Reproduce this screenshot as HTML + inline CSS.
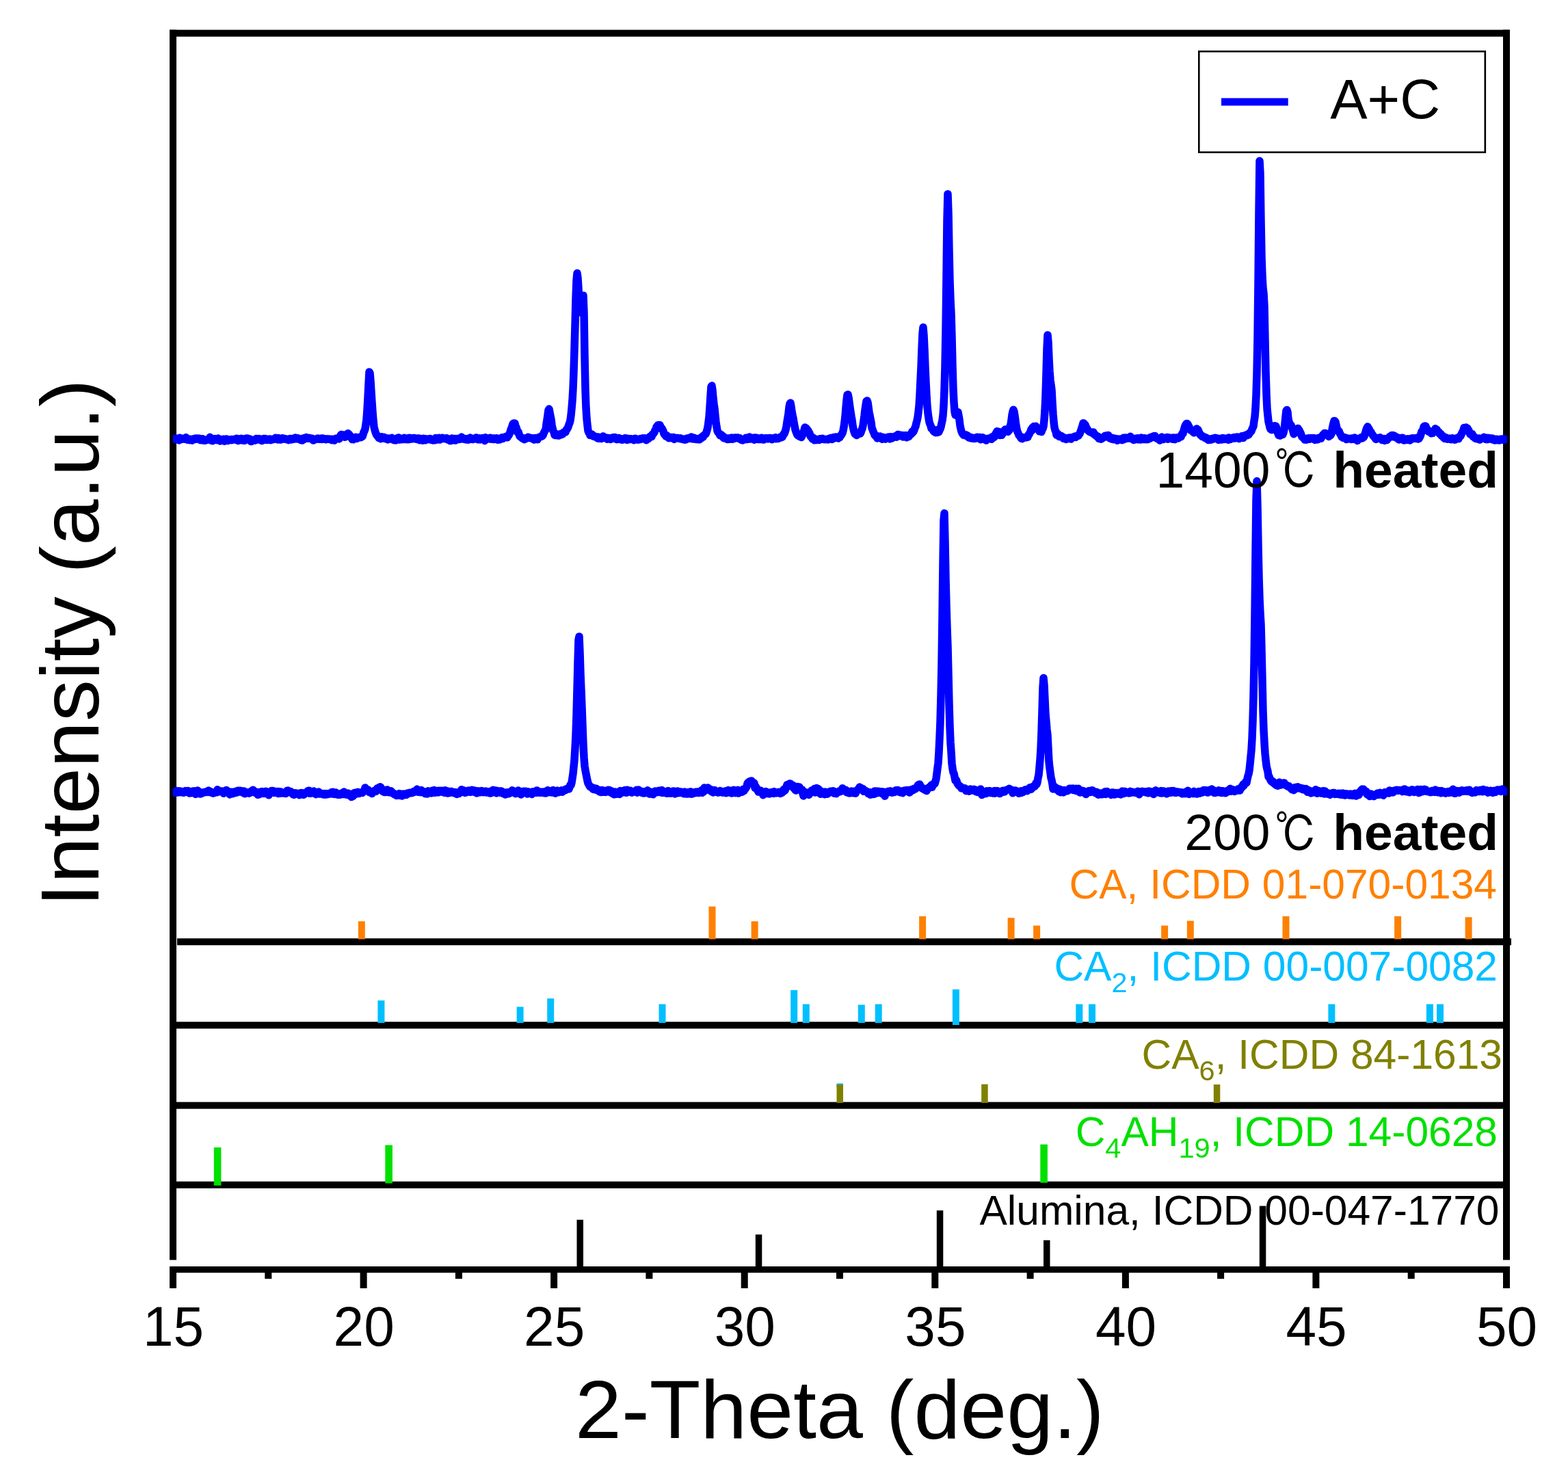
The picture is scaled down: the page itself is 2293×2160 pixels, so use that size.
<!DOCTYPE html>
<html lang="en"><head><meta charset="utf-8"><title>XRD patterns A+C</title>
<style>html,body{margin:0;padding:0;background:#fff;overflow:hidden}svg{display:block}text{font-family:"Liberation Sans","Noto Sans CJK SC",sans-serif;font-kerning:none;font-variant-ligatures:none}</style>
</head><body>
<svg width="2293" height="2160" viewBox="0 0 2293 2160" role="img" aria-label="XRD patterns of A+C heated at 200 and 1400 degrees Celsius">
<rect x="0" y="0" width="2293" height="2160" fill="#fff"/>
<g fill="#000">
<rect x="259" y="1372.3" width="1951" height="10"/>
<rect x="253" y="1494.3" width="1950" height="10"/>
<rect x="253" y="1611.6" width="1950" height="10"/>
<rect x="253" y="1727.8" width="1950" height="10"/>
</g>
<rect x="523.8" y="1347.3" width="10.0" height="26.2" fill="#ff8000"/>
<rect x="1036.5" y="1325.7" width="10.0" height="47.8" fill="#ff8000"/>
<rect x="1098.6" y="1347.3" width="10.0" height="26.2" fill="#ff8000"/>
<rect x="1344.1" y="1340.0" width="10.0" height="33.5" fill="#ff8000"/>
<rect x="1473.6" y="1342.3" width="10.0" height="31.2" fill="#ff8000"/>
<rect x="1511.1" y="1353.6" width="10.0" height="19.9" fill="#ff8000"/>
<rect x="1698.1" y="1353.6" width="10.0" height="19.9" fill="#ff8000"/>
<rect x="1735.8" y="1346.6" width="10.0" height="26.9" fill="#ff8000"/>
<rect x="1875.5" y="1340.0" width="10.0" height="33.5" fill="#ff8000"/>
<rect x="2039.1" y="1340.0" width="10.0" height="33.5" fill="#ff8000"/>
<rect x="2142.6" y="1341.3" width="10.0" height="32.2" fill="#ff8000"/>
<rect x="552.4" y="1463.1" width="10.0" height="32.9" fill="#00bfff"/>
<rect x="755.6" y="1472.4" width="10.0" height="23.6" fill="#00bfff"/>
<rect x="800.2" y="1460.2" width="10.0" height="35.8" fill="#00bfff"/>
<rect x="963.5" y="1468.5" width="10.0" height="27.5" fill="#00bfff"/>
<rect x="1156.2" y="1447.9" width="10.0" height="48.1" fill="#00bfff"/>
<rect x="1173.8" y="1468.5" width="10.0" height="27.5" fill="#00bfff"/>
<rect x="1254.8" y="1469.4" width="10.0" height="26.6" fill="#00bfff"/>
<rect x="1279.7" y="1468.5" width="10.0" height="27.5" fill="#00bfff"/>
<rect x="1392.9" y="1446.9" width="10.0" height="52.1" fill="#00bfff"/>
<rect x="1573.3" y="1468.5" width="10.0" height="27.5" fill="#00bfff"/>
<rect x="1592.0" y="1468.5" width="10.0" height="27.5" fill="#00bfff"/>
<rect x="1942.4" y="1468.5" width="10.0" height="27.5" fill="#00bfff"/>
<rect x="2085.9" y="1468.5" width="10.0" height="27.5" fill="#00bfff"/>
<rect x="2101.0" y="1468.5" width="10.0" height="27.5" fill="#00bfff"/>
<rect x="1223.5" y="1584.5" width="9.5" height="5.5" fill="#00bfff"/>
<rect x="1223.5" y="1586.0" width="9.5" height="27.0" fill="#808000"/>
<rect x="1435.2" y="1585.6" width="9.5" height="27.4" fill="#808000"/>
<rect x="1774.8" y="1586.0" width="9.5" height="27.0" fill="#808000"/>
<rect x="312.8" y="1678.0" width="10.6" height="55.7" fill="#00e000"/>
<rect x="563.3" y="1674.6" width="10.6" height="55.8" fill="#00e000"/>
<rect x="1521.3" y="1673.6" width="10.6" height="56.1" fill="#00e000"/>
<rect x="843.5" y="1783.8" width="9.5" height="69.2" fill="#000"/>
<rect x="1104.8" y="1805.4" width="9.5" height="47.6" fill="#000"/>
<rect x="1369.8" y="1770.2" width="9.5" height="82.8" fill="#000"/>
<rect x="1526.0" y="1813.7" width="9.5" height="39.3" fill="#000"/>
<rect x="1841.8" y="1763.6" width="9.5" height="89.4" fill="#000"/>
<g fill="#000">
<rect x="248" y="43.6" width="1960" height="10"/>
<rect x="248" y="43.6" width="10" height="1799"/>
<rect x="2198" y="43.6" width="10" height="1799"/>
<rect x="248" y="1852" width="1960" height="9.3"/>
<rect x="248.0" y="1856" width="10" height="28"/>
<rect x="526.6" y="1856" width="10" height="28"/>
<rect x="805.1" y="1856" width="10" height="28"/>
<rect x="1083.7" y="1856" width="10" height="28"/>
<rect x="1362.3" y="1856" width="10" height="28"/>
<rect x="1640.9" y="1856" width="10" height="28"/>
<rect x="1919.4" y="1856" width="10" height="28"/>
<rect x="2198.0" y="1856" width="10" height="28"/>
<rect x="387.3" y="1856" width="10" height="14.2"/>
<rect x="665.9" y="1856" width="10" height="14.2"/>
<rect x="944.4" y="1856" width="10" height="14.2"/>
<rect x="1223.0" y="1856" width="10" height="14.2"/>
<rect x="1501.6" y="1856" width="10" height="14.2"/>
<rect x="1780.1" y="1856" width="10" height="14.2"/>
<rect x="2058.7" y="1856" width="10" height="14.2"/>
</g>
<path d="M252.7,1159.4 L255.0,1159.4 L257.0,1158.4 L258.0,1156.4 L259.0,1159.1 L260.0,1158.4 L261.0,1158.8 L262.0,1156.8 L263.0,1157.0 L264.0,1157.6 L265.0,1158.8 L266.0,1157.4 L267.0,1158.1 L268.0,1159.2 L269.0,1159.2 L270.0,1158.2 L271.0,1156.5 L272.0,1157.4 L273.0,1157.9 L274.0,1157.7 L275.0,1156.5 L276.0,1157.5 L277.0,1160.1 L278.0,1159.0 L279.0,1158.2 L280.0,1159.5 L281.0,1159.0 L282.0,1157.0 L283.0,1159.1 L284.0,1156.8 L285.0,1159.1 L286.0,1161.5 L287.0,1159.2 L288.0,1160.4 L289.0,1156.0 L290.0,1160.5 L291.0,1159.5 L292.0,1158.3 L293.0,1161.1 L294.0,1160.3 L295.0,1160.4 L296.0,1159.5 L297.0,1159.2 L298.0,1158.7 L299.0,1158.5 L300.0,1158.8 L301.0,1158.1 L302.0,1157.6 L303.0,1157.9 L304.0,1158.6 L305.0,1156.1 L306.0,1158.2 L307.0,1157.2 L308.0,1157.5 L309.0,1159.1 L310.0,1159.6 L311.0,1159.3 L312.0,1160.2 L313.0,1159.1 L314.0,1159.4 L315.0,1159.0 L316.0,1158.7 L317.0,1158.7 L318.0,1154.8 L319.0,1155.7 L320.0,1156.8 L321.0,1157.6 L322.0,1157.3 L323.0,1157.2 L324.0,1156.9 L325.0,1156.9 L326.0,1158.2 L327.0,1160.3 L328.0,1158.2 L329.0,1157.7 L330.0,1158.4 L331.0,1155.5 L332.0,1157.5 L333.0,1157.5 L334.0,1158.5 L335.0,1157.7 L336.0,1161.9 L337.0,1158.3 L338.0,1159.7 L339.0,1158.2 L340.0,1160.7 L341.0,1160.4 L342.0,1159.7 L343.0,1158.8 L344.0,1157.6 L345.0,1159.4 L346.0,1159.2 L347.0,1157.1 L348.0,1156.3 L349.0,1158.0 L350.0,1158.0 L351.0,1156.2 L352.0,1157.4 L353.0,1156.4 L354.0,1158.1 L355.0,1159.2 L356.0,1158.6 L357.0,1156.9 L358.0,1160.7 L359.0,1159.5 L360.0,1159.9 L361.0,1159.2 L362.0,1159.3 L363.0,1158.7 L364.0,1160.2 L365.0,1159.1 L366.0,1159.5 L367.0,1157.5 L368.0,1157.5 L369.0,1156.1 L370.0,1155.2 L371.0,1156.3 L372.0,1156.9 L373.0,1158.9 L374.0,1159.7 L375.0,1159.9 L376.0,1160.1 L377.0,1162.3 L378.0,1158.4 L379.0,1161.7 L380.0,1160.8 L381.0,1158.6 L382.0,1160.6 L383.0,1157.4 L384.0,1159.4 L385.0,1159.2 L386.0,1160.5 L387.0,1158.8 L388.0,1157.6 L389.0,1157.2 L390.0,1159.6 L391.0,1160.8 L392.0,1160.2 L393.0,1162.8 L394.0,1159.3 L395.0,1158.9 L396.0,1159.2 L397.0,1156.4 L398.0,1157.2 L399.0,1156.4 L400.0,1158.5 L401.0,1159.6 L402.0,1157.3 L403.0,1159.2 L404.0,1157.8 L405.0,1158.7 L406.0,1157.6 L407.0,1160.5 L408.0,1157.6 L409.0,1160.3 L410.0,1158.1 L411.0,1158.1 L412.0,1158.6 L413.0,1160.0 L414.0,1160.1 L415.0,1160.0 L416.0,1159.6 L417.0,1160.0 L418.0,1160.5 L419.0,1159.7 L420.0,1156.2 L421.0,1156.1 L422.0,1157.8 L423.0,1158.5 L424.0,1158.6 L425.0,1157.5 L426.0,1159.0 L427.0,1159.5 L428.0,1161.3 L429.0,1162.0 L430.0,1162.3 L431.0,1159.9 L432.0,1159.7 L433.0,1160.5 L434.0,1160.3 L435.0,1160.2 L436.0,1160.9 L437.0,1161.5 L438.0,1162.7 L439.0,1160.1 L440.0,1159.5 L441.0,1160.0 L442.0,1159.5 L443.0,1161.7 L444.0,1162.3 L445.0,1161.6 L446.0,1160.5 L447.0,1159.9 L448.0,1159.4 L449.0,1158.7 L450.0,1156.8 L451.0,1156.4 L452.0,1156.2 L453.0,1160.3 L454.0,1159.9 L455.0,1160.0 L456.0,1159.8 L457.0,1159.8 L458.0,1157.7 L459.0,1156.9 L460.0,1158.9 L461.0,1160.8 L462.0,1161.5 L463.0,1160.5 L464.0,1160.6 L465.0,1159.8 L466.0,1158.0 L467.0,1161.0 L468.0,1160.4 L469.0,1160.1 L470.0,1160.9 L471.0,1160.8 L472.0,1161.0 L473.0,1162.1 L474.0,1160.6 L475.0,1161.2 L476.0,1162.2 L477.0,1160.5 L478.0,1161.2 L479.0,1161.6 L480.0,1160.6 L481.0,1160.4 L482.0,1160.3 L483.0,1161.0 L484.0,1159.8 L485.0,1158.6 L486.0,1159.0 L487.0,1158.2 L488.0,1161.3 L489.0,1160.3 L490.0,1161.5 L491.0,1158.9 L492.0,1160.5 L493.0,1160.4 L494.0,1162.2 L495.0,1161.4 L496.0,1162.1 L497.0,1162.3 L498.0,1162.0 L499.0,1160.1 L500.0,1160.5 L501.0,1159.8 L502.0,1161.5 L503.0,1158.1 L504.0,1159.4 L505.0,1161.2 L506.0,1162.0 L507.0,1161.4 L508.0,1162.5 L509.0,1160.1 L510.0,1161.9 L511.0,1163.4 L512.0,1162.3 L513.0,1162.3 L514.0,1165.6 L515.0,1164.7 L516.0,1164.5 L517.0,1160.1 L518.0,1159.7 L519.0,1159.3 L520.0,1161.6 L521.0,1159.2 L522.0,1160.7 L523.0,1158.3 L524.0,1159.1 L525.0,1160.5 L526.0,1159.4 L527.0,1159.0 L528.0,1158.9 L529.0,1158.9 L530.0,1159.4 L531.0,1157.7 L532.0,1157.0 L533.0,1155.9 L534.0,1151.9 L535.0,1154.2 L536.0,1154.9 L537.0,1155.2 L538.0,1154.8 L539.0,1155.8 L540.0,1158.6 L541.0,1157.9 L542.0,1159.1 L543.0,1158.4 L544.0,1160.6 L545.0,1159.4 L546.0,1157.4 L547.0,1156.6 L548.0,1156.0 L549.0,1156.4 L550.0,1157.3 L551.0,1155.8 L552.0,1152.7 L553.0,1152.6 L554.0,1151.8 L555.0,1152.0 L556.0,1150.7 L557.0,1151.6 L558.0,1155.3 L559.0,1155.6 L560.0,1157.5 L561.0,1157.7 L562.0,1158.5 L563.0,1156.1 L564.0,1158.5 L565.0,1158.4 L566.0,1154.9 L567.0,1155.6 L568.0,1155.8 L569.0,1158.8 L570.0,1158.0 L571.0,1159.1 L572.0,1156.7 L573.0,1158.8 L574.0,1159.9 L575.0,1160.5 L576.0,1160.3 L577.0,1162.0 L578.0,1162.0 L579.0,1161.8 L580.0,1163.5 L581.0,1162.0 L582.0,1161.5 L583.0,1161.4 L584.0,1160.6 L585.0,1163.4 L586.0,1161.1 L587.0,1162.3 L588.0,1164.0 L589.0,1161.1 L590.0,1161.0 L591.0,1162.4 L592.0,1161.7 L593.0,1160.9 L594.0,1162.6 L595.0,1160.3 L596.0,1160.0 L597.0,1160.2 L598.0,1160.2 L599.0,1159.2 L600.0,1160.0 L601.0,1159.6 L602.0,1159.8 L603.0,1159.2 L604.0,1158.1 L605.0,1158.8 L606.0,1157.0 L607.0,1157.2 L608.0,1155.9 L609.0,1157.1 L610.0,1154.1 L611.0,1158.1 L612.0,1158.3 L613.0,1156.7 L614.0,1157.9 L615.0,1158.8 L616.0,1155.6 L617.0,1157.0 L618.0,1158.2 L619.0,1158.5 L620.0,1158.8 L621.0,1158.0 L622.0,1160.7 L623.0,1160.6 L624.0,1159.3 L625.0,1161.0 L626.0,1156.8 L627.0,1159.8 L628.0,1159.2 L629.0,1157.8 L630.0,1159.1 L631.0,1160.0 L632.0,1156.3 L633.0,1159.3 L634.0,1157.4 L635.0,1155.6 L636.0,1159.2 L637.0,1159.1 L638.0,1157.3 L639.0,1158.4 L640.0,1158.9 L641.0,1156.2 L642.0,1158.7 L643.0,1157.0 L644.0,1156.4 L645.0,1157.0 L646.0,1157.4 L647.0,1156.2 L648.0,1158.6 L649.0,1158.7 L650.0,1159.4 L651.0,1155.7 L652.0,1156.3 L653.0,1159.4 L654.0,1159.9 L655.0,1159.9 L656.0,1157.2 L657.0,1159.4 L658.0,1157.7 L659.0,1157.7 L660.0,1157.4 L661.0,1159.0 L662.0,1159.3 L663.0,1158.5 L664.0,1159.8 L665.0,1158.6 L666.0,1159.9 L667.0,1160.7 L668.0,1161.6 L669.0,1158.8 L670.0,1159.3 L671.0,1160.6 L672.0,1158.8 L673.0,1157.9 L674.0,1159.0 L675.0,1154.7 L676.0,1157.2 L677.0,1157.0 L678.0,1155.7 L679.0,1158.2 L680.0,1159.4 L681.0,1158.1 L682.0,1157.9 L683.0,1158.6 L684.0,1157.8 L685.0,1156.1 L686.0,1156.2 L687.0,1158.2 L688.0,1158.4 L689.0,1157.9 L690.0,1155.2 L691.0,1155.7 L692.0,1156.6 L693.0,1158.2 L694.0,1156.0 L695.0,1158.3 L696.0,1158.8 L697.0,1159.9 L698.0,1159.8 L699.0,1156.7 L700.0,1158.0 L701.0,1157.2 L702.0,1158.8 L703.0,1157.7 L704.0,1156.5 L705.0,1156.8 L706.0,1157.5 L707.0,1158.7 L708.0,1158.4 L709.0,1157.4 L710.0,1157.0 L711.0,1158.9 L712.0,1159.1 L713.0,1158.0 L714.0,1157.7 L715.0,1159.2 L716.0,1159.8 L717.0,1159.0 L718.0,1160.0 L719.0,1156.6 L720.0,1155.9 L721.0,1155.4 L722.0,1155.9 L723.0,1156.5 L724.0,1155.9 L725.0,1158.9 L726.0,1159.9 L727.0,1156.4 L728.0,1158.4 L729.0,1157.1 L730.0,1158.2 L731.0,1159.2 L732.0,1159.1 L733.0,1156.9 L734.0,1157.2 L735.0,1158.7 L736.0,1160.5 L737.0,1160.2 L738.0,1160.1 L739.0,1162.0 L740.0,1159.0 L741.0,1161.1 L742.0,1158.8 L743.0,1161.1 L744.0,1159.8 L745.0,1160.2 L746.0,1159.6 L747.0,1159.2 L748.0,1156.7 L749.0,1155.9 L750.0,1156.3 L751.0,1157.0 L752.0,1158.4 L753.0,1159.7 L754.0,1160.8 L755.0,1159.1 L756.0,1157.6 L757.0,1157.0 L758.0,1156.1 L759.0,1158.1 L760.0,1157.5 L761.0,1158.4 L762.0,1162.0 L763.0,1157.7 L764.0,1157.6 L765.0,1157.9 L766.0,1157.2 L767.0,1158.5 L768.0,1157.2 L769.0,1157.2 L770.0,1159.6 L771.0,1161.1 L772.0,1157.7 L773.0,1158.0 L774.0,1158.7 L775.0,1159.7 L776.0,1160.2 L777.0,1158.8 L778.0,1161.5 L779.0,1157.7 L780.0,1158.3 L781.0,1158.9 L782.0,1157.8 L783.0,1159.0 L784.0,1159.4 L785.0,1155.9 L786.0,1157.9 L787.0,1157.7 L788.0,1159.2 L789.0,1158.9 L790.0,1158.2 L791.0,1159.3 L792.0,1159.2 L793.0,1159.0 L794.0,1158.1 L795.0,1159.1 L796.0,1159.8 L797.0,1159.9 L798.0,1160.0 L799.0,1156.9 L800.0,1158.5 L801.0,1155.6 L802.0,1157.6 L803.0,1158.7 L804.0,1157.5 L805.0,1158.4 L806.0,1156.4 L807.0,1159.1 L808.0,1158.6 L809.0,1155.4 L810.0,1159.0 L811.0,1159.4 L812.0,1160.3 L813.0,1158.2 L814.0,1158.9 L815.0,1156.1 L816.0,1158.6 L817.0,1158.8 L818.0,1157.8 L819.0,1158.0 L820.0,1157.4 L821.0,1155.8 L822.0,1158.3 L823.0,1156.4 L824.0,1157.0 L825.0,1155.2 L826.0,1155.2 L827.0,1155.5 L828.0,1154.0 L829.0,1153.5 L830.0,1153.8 L831.0,1153.8 L832.0,1153.9 L833.0,1151.1 L834.0,1147.7 L835.0,1148.2 L836.0,1144.5 L837.0,1138.1 L838.0,1131.4 L839.0,1121.5 L840.0,1111.7 L841.0,1094.3 L842.0,1075.3 L843.0,1046.7 L844.0,1008.4 L845.0,969.0 L846.0,935.7 L847.0,930.9 L848.0,954.5 L849.0,985.9 L850.0,1010.1 L851.0,1034.7 L852.0,1062.4 L853.0,1088.7 L854.0,1107.9 L855.0,1120.3 L856.0,1126.5 L857.0,1131.7 L858.0,1136.7 L859.0,1141.6 L860.0,1145.6 L861.0,1147.1 L862.0,1149.1 L863.0,1150.8 L864.0,1151.0 L865.0,1151.5 L866.0,1151.4 L867.0,1154.0 L868.0,1154.4 L869.0,1153.3 L870.0,1153.0 L871.0,1154.9 L872.0,1153.2 L873.0,1154.1 L874.0,1155.5 L875.0,1155.6 L876.0,1157.3 L877.0,1158.1 L878.0,1155.5 L879.0,1158.6 L880.0,1156.8 L881.0,1155.6 L882.0,1156.1 L883.0,1158.3 L884.0,1157.9 L885.0,1157.3 L886.0,1158.4 L887.0,1156.1 L888.0,1157.5 L889.0,1155.3 L890.0,1156.7 L891.0,1155.4 L892.0,1158.3 L893.0,1159.1 L894.0,1158.0 L895.0,1157.0 L896.0,1160.8 L897.0,1160.2 L898.0,1161.8 L899.0,1160.4 L900.0,1158.1 L901.0,1159.9 L902.0,1161.2 L903.0,1160.5 L904.0,1159.6 L905.0,1160.2 L906.0,1161.5 L907.0,1156.6 L908.0,1157.9 L909.0,1158.0 L910.0,1158.6 L911.0,1156.5 L912.0,1158.7 L913.0,1157.0 L914.0,1155.4 L915.0,1156.5 L916.0,1159.3 L917.0,1155.2 L918.0,1158.4 L919.0,1157.2 L920.0,1157.2 L921.0,1157.0 L922.0,1156.2 L923.0,1158.2 L924.0,1159.2 L925.0,1157.7 L926.0,1157.7 L927.0,1157.7 L928.0,1157.4 L929.0,1158.1 L930.0,1156.1 L931.0,1155.2 L932.0,1159.2 L933.0,1157.5 L934.0,1155.0 L935.0,1157.6 L936.0,1156.6 L937.0,1157.6 L938.0,1157.4 L939.0,1159.5 L940.0,1159.8 L941.0,1158.2 L942.0,1159.9 L943.0,1159.8 L944.0,1157.3 L945.0,1158.3 L946.0,1159.1 L947.0,1155.7 L948.0,1158.9 L949.0,1159.6 L950.0,1161.2 L951.0,1160.1 L952.0,1160.5 L953.0,1158.2 L954.0,1159.3 L955.0,1161.8 L956.0,1159.1 L957.0,1158.0 L958.0,1157.2 L959.0,1157.9 L960.0,1158.5 L961.0,1158.7 L962.0,1157.0 L963.0,1156.5 L964.0,1158.0 L965.0,1157.9 L966.0,1156.0 L967.0,1159.0 L968.0,1155.5 L969.0,1159.5 L970.0,1158.7 L971.0,1158.4 L972.0,1157.7 L973.0,1159.5 L974.0,1158.9 L975.0,1160.3 L976.0,1160.2 L977.0,1156.6 L978.0,1157.9 L979.0,1157.7 L980.0,1160.1 L981.0,1160.2 L982.0,1159.7 L983.0,1158.6 L984.0,1157.0 L985.0,1157.0 L986.0,1159.1 L987.0,1160.9 L988.0,1157.3 L989.0,1158.6 L990.0,1160.0 L991.0,1156.9 L992.0,1159.7 L993.0,1159.0 L994.0,1159.4 L995.0,1158.0 L996.0,1158.5 L997.0,1159.4 L998.0,1158.5 L999.0,1158.8 L1000.0,1160.7 L1001.0,1158.0 L1002.0,1160.0 L1003.0,1160.7 L1004.0,1161.1 L1005.0,1160.9 L1006.0,1160.9 L1007.0,1158.4 L1008.0,1158.4 L1009.0,1159.8 L1010.0,1157.7 L1011.0,1161.2 L1012.0,1160.6 L1013.0,1160.3 L1014.0,1160.4 L1015.0,1158.7 L1016.0,1159.6 L1017.0,1159.5 L1018.0,1158.3 L1019.0,1158.9 L1020.0,1159.4 L1021.0,1157.8 L1022.0,1159.6 L1023.0,1159.1 L1024.0,1157.4 L1025.0,1158.6 L1026.0,1155.5 L1027.0,1159.4 L1028.0,1157.9 L1029.0,1157.9 L1030.0,1151.9 L1031.0,1153.9 L1032.0,1153.0 L1033.0,1152.8 L1034.0,1153.2 L1035.0,1151.9 L1036.0,1154.5 L1037.0,1154.8 L1038.0,1156.2 L1039.0,1154.3 L1040.0,1155.2 L1041.0,1158.1 L1042.0,1158.4 L1043.0,1158.8 L1044.0,1157.3 L1045.0,1155.5 L1046.0,1156.6 L1047.0,1157.0 L1048.0,1158.3 L1049.0,1158.6 L1050.0,1159.1 L1051.0,1158.1 L1052.0,1157.5 L1053.0,1156.6 L1054.0,1158.5 L1055.0,1157.4 L1056.0,1157.6 L1057.0,1159.2 L1058.0,1158.3 L1059.0,1157.4 L1060.0,1157.2 L1061.0,1156.8 L1062.0,1159.8 L1063.0,1157.7 L1064.0,1159.1 L1065.0,1155.5 L1066.0,1156.8 L1067.0,1159.1 L1068.0,1158.4 L1069.0,1159.3 L1070.0,1160.1 L1071.0,1156.0 L1072.0,1158.4 L1073.0,1155.2 L1074.0,1158.5 L1075.0,1157.1 L1076.0,1159.7 L1077.0,1159.5 L1078.0,1157.8 L1079.0,1155.3 L1080.0,1160.1 L1081.0,1158.4 L1082.0,1157.6 L1083.0,1157.6 L1084.0,1157.0 L1085.0,1158.4 L1086.0,1157.0 L1087.0,1154.1 L1088.0,1156.7 L1089.0,1154.0 L1090.0,1153.9 L1091.0,1152.2 L1092.0,1150.4 L1093.0,1145.8 L1094.0,1144.2 L1095.0,1144.7 L1096.0,1142.7 L1097.0,1142.6 L1098.0,1142.1 L1099.0,1142.1 L1100.0,1145.2 L1101.0,1144.4 L1102.0,1144.4 L1103.0,1145.4 L1104.0,1152.4 L1105.0,1150.1 L1106.0,1151.6 L1107.0,1154.8 L1108.0,1154.4 L1109.0,1158.1 L1110.0,1157.9 L1111.0,1157.5 L1112.0,1155.9 L1113.0,1157.6 L1114.0,1158.9 L1115.0,1158.9 L1116.0,1162.7 L1117.0,1160.5 L1118.0,1159.7 L1119.0,1159.4 L1120.0,1157.5 L1121.0,1158.4 L1122.0,1160.5 L1123.0,1159.1 L1124.0,1159.8 L1125.0,1161.0 L1126.0,1160.0 L1127.0,1159.5 L1128.0,1158.5 L1129.0,1159.9 L1130.0,1159.1 L1131.0,1160.4 L1132.0,1157.6 L1133.0,1159.7 L1134.0,1159.0 L1135.0,1160.0 L1136.0,1158.7 L1137.0,1158.8 L1138.0,1158.6 L1139.0,1158.3 L1140.0,1159.8 L1141.0,1160.5 L1142.0,1159.8 L1143.0,1159.7 L1144.0,1158.9 L1145.0,1158.0 L1146.0,1154.5 L1147.0,1156.6 L1148.0,1155.8 L1149.0,1153.4 L1150.0,1150.5 L1151.0,1147.6 L1152.0,1149.0 L1153.0,1147.6 L1154.0,1149.6 L1155.0,1146.0 L1156.0,1146.0 L1157.0,1147.6 L1158.0,1148.9 L1159.0,1148.2 L1160.0,1148.7 L1161.0,1153.0 L1162.0,1153.7 L1163.0,1155.4 L1164.0,1156.1 L1165.0,1151.1 L1166.0,1150.4 L1167.0,1153.0 L1168.0,1152.0 L1169.0,1150.9 L1170.0,1153.2 L1171.0,1154.0 L1172.0,1155.5 L1173.0,1154.8 L1174.0,1160.8 L1175.0,1164.0 L1176.0,1159.8 L1177.0,1159.5 L1178.0,1159.7 L1179.0,1159.0 L1180.0,1159.9 L1181.0,1159.5 L1182.0,1159.4 L1183.0,1162.4 L1184.0,1160.5 L1185.0,1159.5 L1186.0,1158.9 L1187.0,1155.9 L1188.0,1157.9 L1189.0,1155.8 L1190.0,1157.5 L1191.0,1153.4 L1192.0,1159.1 L1193.0,1155.8 L1194.0,1152.5 L1195.0,1152.9 L1196.0,1153.4 L1197.0,1154.0 L1198.0,1155.0 L1199.0,1157.6 L1200.0,1161.2 L1201.0,1159.6 L1202.0,1159.7 L1203.0,1157.9 L1204.0,1158.2 L1205.0,1158.3 L1206.0,1161.8 L1207.0,1158.0 L1208.0,1160.5 L1209.0,1160.1 L1210.0,1161.2 L1211.0,1158.8 L1212.0,1159.4 L1213.0,1158.2 L1214.0,1157.2 L1215.0,1157.3 L1216.0,1157.6 L1217.0,1158.9 L1218.0,1156.8 L1219.0,1156.9 L1220.0,1160.2 L1221.0,1160.0 L1222.0,1160.1 L1223.0,1160.6 L1224.0,1159.1 L1225.0,1159.1 L1226.0,1157.9 L1227.0,1157.1 L1228.0,1157.1 L1229.0,1157.6 L1230.0,1157.1 L1231.0,1154.8 L1232.0,1152.7 L1233.0,1153.9 L1234.0,1154.1 L1235.0,1155.2 L1236.0,1156.3 L1237.0,1155.3 L1238.0,1158.7 L1239.0,1157.0 L1240.0,1159.4 L1241.0,1159.2 L1242.0,1159.9 L1243.0,1158.9 L1244.0,1159.6 L1245.0,1156.9 L1246.0,1158.5 L1247.0,1159.4 L1248.0,1159.8 L1249.0,1157.2 L1250.0,1159.4 L1251.0,1160.3 L1252.0,1158.1 L1253.0,1156.3 L1254.0,1155.4 L1255.0,1153.9 L1256.0,1154.2 L1257.0,1151.0 L1258.0,1153.1 L1259.0,1152.2 L1260.0,1155.0 L1261.0,1154.0 L1262.0,1153.6 L1263.0,1157.3 L1264.0,1157.1 L1265.0,1156.7 L1266.0,1156.5 L1267.0,1158.2 L1268.0,1158.4 L1269.0,1158.3 L1270.0,1160.8 L1271.0,1158.4 L1272.0,1159.4 L1273.0,1162.2 L1274.0,1159.5 L1275.0,1160.3 L1276.0,1160.8 L1277.0,1161.5 L1278.0,1161.4 L1279.0,1156.9 L1280.0,1157.4 L1281.0,1158.2 L1282.0,1159.8 L1283.0,1157.1 L1284.0,1157.2 L1285.0,1157.2 L1286.0,1157.5 L1287.0,1157.6 L1288.0,1157.7 L1289.0,1160.4 L1290.0,1157.8 L1291.0,1158.1 L1292.0,1161.3 L1293.0,1158.3 L1294.0,1164.2 L1295.0,1159.1 L1296.0,1159.7 L1297.0,1158.8 L1298.0,1159.3 L1299.0,1157.3 L1300.0,1158.5 L1301.0,1157.6 L1302.0,1156.9 L1303.0,1157.9 L1304.0,1159.1 L1305.0,1158.7 L1306.0,1158.9 L1307.0,1157.3 L1308.0,1158.5 L1309.0,1156.8 L1310.0,1155.7 L1311.0,1157.4 L1312.0,1157.1 L1313.0,1155.4 L1314.0,1156.6 L1315.0,1158.3 L1316.0,1157.3 L1317.0,1158.9 L1318.0,1157.2 L1319.0,1157.6 L1320.0,1159.7 L1321.0,1157.4 L1322.0,1156.3 L1323.0,1157.1 L1324.0,1156.3 L1325.0,1157.1 L1326.0,1157.2 L1327.0,1155.4 L1328.0,1156.7 L1329.0,1156.3 L1330.0,1159.0 L1331.0,1158.2 L1332.0,1154.9 L1333.0,1155.0 L1334.0,1154.4 L1335.0,1155.7 L1336.0,1154.7 L1337.0,1153.2 L1338.0,1154.1 L1339.0,1153.5 L1340.0,1152.6 L1341.0,1151.6 L1342.0,1149.0 L1343.0,1147.8 L1344.0,1149.2 L1345.0,1146.9 L1346.0,1150.3 L1347.0,1150.7 L1348.0,1152.5 L1349.0,1153.2 L1350.0,1153.0 L1351.0,1153.2 L1352.0,1155.1 L1353.0,1154.3 L1354.0,1154.6 L1355.0,1156.6 L1356.0,1154.4 L1357.0,1152.9 L1358.0,1151.9 L1359.0,1151.2 L1360.0,1150.2 L1361.0,1151.5 L1362.0,1148.1 L1363.0,1151.3 L1364.0,1148.9 L1365.0,1146.1 L1366.0,1146.7 L1367.0,1146.1 L1368.0,1142.8 L1369.0,1138.9 L1370.0,1131.2 L1371.0,1123.3 L1372.0,1115.7 L1373.0,1100.5 L1374.0,1079.5 L1375.0,1055.7 L1376.0,1018.3 L1377.0,971.3 L1378.0,903.5 L1379.0,823.5 L1380.0,760.8 L1381.0,750.6 L1382.0,792.1 L1383.0,846.1 L1384.0,886.2 L1385.0,918.5 L1386.0,945.6 L1387.0,987.3 L1388.0,1030.1 L1389.0,1062.2 L1390.0,1085.6 L1391.0,1099.5 L1392.0,1116.4 L1393.0,1123.9 L1394.0,1129.5 L1395.0,1131.2 L1396.0,1136.2 L1397.0,1141.3 L1398.0,1140.0 L1399.0,1142.0 L1400.0,1145.5 L1401.0,1147.2 L1402.0,1148.3 L1403.0,1149.7 L1404.0,1149.5 L1405.0,1150.6 L1406.0,1152.6 L1407.0,1152.3 L1408.0,1153.1 L1409.0,1152.8 L1410.0,1153.5 L1411.0,1152.7 L1412.0,1154.4 L1413.0,1156.8 L1414.0,1155.4 L1415.0,1155.9 L1416.0,1156.5 L1417.0,1157.1 L1418.0,1156.6 L1419.0,1154.0 L1420.0,1154.3 L1421.0,1155.9 L1422.0,1156.1 L1423.0,1155.7 L1424.0,1154.3 L1425.0,1155.5 L1426.0,1154.8 L1427.0,1157.5 L1428.0,1156.4 L1429.0,1158.4 L1430.0,1156.2 L1431.0,1157.0 L1432.0,1157.1 L1433.0,1157.0 L1434.0,1153.9 L1435.0,1159.7 L1436.0,1162.6 L1437.0,1160.5 L1438.0,1161.4 L1439.0,1159.6 L1440.0,1160.6 L1441.0,1158.3 L1442.0,1160.5 L1443.0,1156.8 L1444.0,1157.1 L1445.0,1158.7 L1446.0,1159.0 L1447.0,1156.5 L1448.0,1159.6 L1449.0,1159.5 L1450.0,1157.5 L1451.0,1158.7 L1452.0,1160.1 L1453.0,1158.3 L1454.0,1156.6 L1455.0,1160.2 L1456.0,1156.8 L1457.0,1159.6 L1458.0,1156.5 L1459.0,1157.4 L1460.0,1157.2 L1461.0,1157.8 L1462.0,1160.6 L1463.0,1159.5 L1464.0,1157.3 L1465.0,1158.7 L1466.0,1158.5 L1467.0,1156.3 L1468.0,1156.6 L1469.0,1157.9 L1470.0,1157.0 L1471.0,1156.0 L1472.0,1155.1 L1473.0,1154.9 L1474.0,1154.7 L1475.0,1154.0 L1476.0,1153.3 L1477.0,1155.0 L1478.0,1154.6 L1479.0,1154.9 L1480.0,1155.7 L1481.0,1159.8 L1482.0,1158.8 L1483.0,1156.6 L1484.0,1156.1 L1485.0,1155.9 L1486.0,1157.0 L1487.0,1158.0 L1488.0,1158.9 L1489.0,1157.6 L1490.0,1160.3 L1491.0,1159.3 L1492.0,1159.2 L1493.0,1156.7 L1494.0,1159.4 L1495.0,1158.2 L1496.0,1158.5 L1497.0,1157.2 L1498.0,1155.9 L1499.0,1155.0 L1500.0,1155.0 L1501.0,1155.9 L1502.0,1156.8 L1503.0,1153.9 L1504.0,1153.8 L1505.0,1153.5 L1506.0,1151.7 L1507.0,1153.6 L1508.0,1154.3 L1509.0,1152.0 L1510.0,1150.7 L1511.0,1151.3 L1512.0,1150.6 L1513.0,1150.3 L1514.0,1148.5 L1515.0,1145.1 L1516.0,1147.1 L1517.0,1144.0 L1518.0,1137.4 L1519.0,1133.3 L1520.0,1122.7 L1521.0,1111.1 L1522.0,1095.7 L1523.0,1071.4 L1524.0,1040.2 L1525.0,1005.6 L1526.0,991.5 L1527.0,1001.8 L1528.0,1023.4 L1529.0,1044.9 L1530.0,1055.3 L1531.0,1067.1 L1532.0,1075.5 L1533.0,1095.8 L1534.0,1114.2 L1535.0,1123.1 L1536.0,1130.3 L1537.0,1137.6 L1538.0,1141.1 L1539.0,1146.8 L1540.0,1153.9 L1541.0,1149.4 L1542.0,1152.0 L1543.0,1151.0 L1544.0,1154.2 L1545.0,1152.6 L1546.0,1153.0 L1547.0,1154.2 L1548.0,1157.1 L1549.0,1157.8 L1550.0,1154.3 L1551.0,1158.7 L1552.0,1157.3 L1553.0,1156.1 L1554.0,1156.9 L1555.0,1158.9 L1556.0,1155.6 L1557.0,1157.6 L1558.0,1157.0 L1559.0,1156.9 L1560.0,1156.1 L1561.0,1156.6 L1562.0,1156.0 L1563.0,1154.5 L1564.0,1153.3 L1565.0,1154.6 L1566.0,1153.3 L1567.0,1154.6 L1568.0,1153.6 L1569.0,1153.0 L1570.0,1155.5 L1571.0,1155.6 L1572.0,1153.5 L1573.0,1153.3 L1574.0,1156.6 L1575.0,1154.1 L1576.0,1153.7 L1577.0,1153.2 L1578.0,1157.1 L1579.0,1158.9 L1580.0,1159.1 L1581.0,1155.9 L1582.0,1158.0 L1583.0,1156.4 L1584.0,1156.5 L1585.0,1158.6 L1586.0,1158.2 L1587.0,1159.7 L1588.0,1161.6 L1589.0,1159.7 L1590.0,1158.2 L1591.0,1158.0 L1592.0,1156.6 L1593.0,1158.5 L1594.0,1158.6 L1595.0,1158.4 L1596.0,1157.8 L1597.0,1155.7 L1598.0,1156.1 L1599.0,1157.9 L1600.0,1157.9 L1601.0,1158.7 L1602.0,1159.8 L1603.0,1158.2 L1604.0,1158.3 L1605.0,1160.1 L1606.0,1162.2 L1607.0,1161.7 L1608.0,1161.5 L1609.0,1161.5 L1610.0,1159.9 L1611.0,1161.8 L1612.0,1160.1 L1613.0,1159.8 L1614.0,1161.0 L1615.0,1160.5 L1616.0,1157.7 L1617.0,1161.5 L1618.0,1158.5 L1619.0,1157.6 L1620.0,1159.0 L1621.0,1159.4 L1622.0,1159.5 L1623.0,1159.9 L1624.0,1160.7 L1625.0,1162.4 L1626.0,1158.9 L1627.0,1160.0 L1628.0,1159.3 L1629.0,1160.3 L1630.0,1162.0 L1631.0,1159.4 L1632.0,1161.0 L1633.0,1160.2 L1634.0,1159.5 L1635.0,1161.0 L1636.0,1161.2 L1637.0,1160.3 L1638.0,1160.3 L1639.0,1161.9 L1640.0,1159.5 L1641.0,1157.1 L1642.0,1159.0 L1643.0,1160.6 L1644.0,1159.8 L1645.0,1157.3 L1646.0,1158.3 L1647.0,1159.2 L1648.0,1159.6 L1649.0,1159.2 L1650.0,1159.0 L1651.0,1160.1 L1652.0,1158.0 L1653.0,1157.3 L1654.0,1159.4 L1655.0,1159.0 L1656.0,1158.6 L1657.0,1158.2 L1658.0,1158.8 L1659.0,1159.2 L1660.0,1158.9 L1661.0,1158.8 L1662.0,1159.7 L1663.0,1158.7 L1664.0,1157.2 L1665.0,1159.6 L1666.0,1161.8 L1667.0,1159.5 L1668.0,1158.5 L1669.0,1157.9 L1670.0,1157.2 L1671.0,1157.5 L1672.0,1157.5 L1673.0,1158.1 L1674.0,1158.5 L1675.0,1158.3 L1676.0,1159.0 L1677.0,1157.6 L1678.0,1157.6 L1679.0,1159.8 L1680.0,1157.0 L1681.0,1158.7 L1682.0,1159.5 L1683.0,1159.0 L1684.0,1157.9 L1685.0,1158.3 L1686.0,1157.8 L1687.0,1161.5 L1688.0,1158.7 L1689.0,1156.7 L1690.0,1155.7 L1691.0,1158.4 L1692.0,1157.5 L1693.0,1158.4 L1694.0,1158.5 L1695.0,1159.2 L1696.0,1157.2 L1697.0,1159.8 L1698.0,1156.6 L1699.0,1160.0 L1700.0,1159.9 L1701.0,1157.1 L1702.0,1157.1 L1703.0,1158.4 L1704.0,1158.1 L1705.0,1159.9 L1706.0,1160.9 L1707.0,1157.8 L1708.0,1160.1 L1709.0,1157.1 L1710.0,1157.3 L1711.0,1158.9 L1712.0,1159.1 L1713.0,1156.5 L1714.0,1156.9 L1715.0,1158.6 L1716.0,1156.5 L1717.0,1158.2 L1718.0,1159.3 L1719.0,1158.5 L1720.0,1159.5 L1721.0,1157.9 L1722.0,1158.1 L1723.0,1158.6 L1724.0,1158.3 L1725.0,1158.5 L1726.0,1159.2 L1727.0,1160.1 L1728.0,1158.7 L1729.0,1160.9 L1730.0,1160.5 L1731.0,1159.6 L1732.0,1160.3 L1733.0,1160.7 L1734.0,1159.9 L1735.0,1157.5 L1736.0,1157.9 L1737.0,1156.2 L1738.0,1159.0 L1739.0,1161.5 L1740.0,1158.4 L1741.0,1160.1 L1742.0,1159.0 L1743.0,1160.1 L1744.0,1159.8 L1745.0,1160.7 L1746.0,1157.3 L1747.0,1160.5 L1748.0,1160.0 L1749.0,1159.8 L1750.0,1161.1 L1751.0,1158.4 L1752.0,1158.5 L1753.0,1157.6 L1754.0,1160.3 L1755.0,1159.1 L1756.0,1157.6 L1757.0,1156.9 L1758.0,1159.1 L1759.0,1158.8 L1760.0,1155.6 L1761.0,1156.8 L1762.0,1158.0 L1763.0,1155.6 L1764.0,1156.3 L1765.0,1158.7 L1766.0,1159.1 L1767.0,1156.4 L1768.0,1155.5 L1769.0,1155.8 L1770.0,1157.8 L1771.0,1157.2 L1772.0,1154.0 L1773.0,1156.0 L1774.0,1155.2 L1775.0,1157.2 L1776.0,1159.6 L1777.0,1159.5 L1778.0,1158.4 L1779.0,1157.7 L1780.0,1157.1 L1781.0,1158.8 L1782.0,1155.8 L1783.0,1157.9 L1784.0,1157.9 L1785.0,1158.9 L1786.0,1159.6 L1787.0,1156.6 L1788.0,1156.7 L1789.0,1159.0 L1790.0,1159.4 L1791.0,1158.9 L1792.0,1159.8 L1793.0,1159.4 L1794.0,1157.0 L1795.0,1156.1 L1796.0,1156.0 L1797.0,1157.3 L1798.0,1155.6 L1799.0,1153.2 L1800.0,1157.2 L1801.0,1156.1 L1802.0,1154.5 L1803.0,1155.3 L1804.0,1155.2 L1805.0,1157.4 L1806.0,1155.8 L1807.0,1156.6 L1808.0,1155.9 L1809.0,1155.1 L1810.0,1156.1 L1811.0,1153.8 L1812.0,1153.9 L1813.0,1156.1 L1814.0,1153.5 L1815.0,1153.0 L1816.0,1150.1 L1817.0,1150.7 L1818.0,1147.1 L1819.0,1148.9 L1820.0,1146.0 L1821.0,1146.0 L1822.0,1142.8 L1823.0,1144.6 L1824.0,1139.3 L1825.0,1134.7 L1826.0,1131.7 L1827.0,1126.5 L1828.0,1117.3 L1829.0,1107.0 L1830.0,1097.0 L1831.0,1080.3 L1832.0,1054.3 L1833.0,1019.4 L1834.0,970.9 L1835.0,899.6 L1836.0,810.6 L1837.0,730.7 L1838.0,703.6 L1839.0,741.2 L1840.0,798.1 L1841.0,844.7 L1842.0,876.1 L1843.0,897.2 L1844.0,913.2 L1845.0,951.3 L1846.0,994.9 L1847.0,1039.8 L1848.0,1067.4 L1849.0,1086.3 L1850.0,1101.5 L1851.0,1111.4 L1852.0,1119.9 L1853.0,1124.4 L1854.0,1128.1 L1855.0,1136.0 L1856.0,1135.7 L1857.0,1138.7 L1858.0,1140.8 L1859.0,1142.5 L1860.0,1142.2 L1861.0,1144.4 L1862.0,1143.3 L1863.0,1144.7 L1864.0,1146.6 L1865.0,1145.9 L1866.0,1148.3 L1867.0,1147.9 L1868.0,1149.1 L1869.0,1149.2 L1870.0,1144.5 L1871.0,1144.1 L1872.0,1146.4 L1873.0,1148.1 L1874.0,1147.2 L1875.0,1146.4 L1876.0,1145.3 L1877.0,1146.4 L1878.0,1144.9 L1879.0,1147.7 L1880.0,1148.4 L1881.0,1148.4 L1882.0,1148.5 L1883.0,1149.9 L1884.0,1149.4 L1885.0,1149.6 L1886.0,1151.0 L1887.0,1152.3 L1888.0,1153.1 L1889.0,1154.5 L1890.0,1153.3 L1891.0,1155.1 L1892.0,1155.6 L1893.0,1154.7 L1894.0,1151.4 L1895.0,1152.4 L1896.0,1151.3 L1897.0,1152.8 L1898.0,1150.8 L1899.0,1152.5 L1900.0,1152.1 L1901.0,1152.0 L1902.0,1153.4 L1903.0,1152.5 L1904.0,1154.0 L1905.0,1154.5 L1906.0,1153.3 L1907.0,1154.8 L1908.0,1154.3 L1909.0,1155.3 L1910.0,1153.6 L1911.0,1156.1 L1912.0,1158.3 L1913.0,1155.2 L1914.0,1157.6 L1915.0,1157.4 L1916.0,1157.6 L1917.0,1160.0 L1918.0,1157.1 L1919.0,1159.2 L1920.0,1158.1 L1921.0,1158.5 L1922.0,1158.0 L1923.0,1156.5 L1924.0,1154.7 L1925.0,1155.4 L1926.0,1160.3 L1927.0,1156.4 L1928.0,1156.9 L1929.0,1156.8 L1930.0,1158.7 L1931.0,1159.2 L1932.0,1160.0 L1933.0,1160.0 L1934.0,1158.6 L1935.0,1156.6 L1936.0,1159.8 L1937.0,1161.0 L1938.0,1157.0 L1939.0,1159.3 L1940.0,1160.7 L1941.0,1160.8 L1942.0,1161.2 L1943.0,1161.4 L1944.0,1160.2 L1945.0,1162.3 L1946.0,1160.6 L1947.0,1160.3 L1948.0,1160.6 L1949.0,1159.4 L1950.0,1159.6 L1951.0,1159.5 L1952.0,1161.4 L1953.0,1160.7 L1954.0,1160.4 L1955.0,1161.1 L1956.0,1161.3 L1957.0,1160.2 L1958.0,1161.3 L1959.0,1161.9 L1960.0,1161.1 L1961.0,1160.3 L1962.0,1161.8 L1963.0,1162.6 L1964.0,1160.0 L1965.0,1160.8 L1966.0,1160.8 L1967.0,1163.0 L1968.0,1160.7 L1969.0,1161.3 L1970.0,1161.0 L1971.0,1162.2 L1972.0,1162.4 L1973.0,1162.7 L1974.0,1163.1 L1975.0,1160.9 L1976.0,1162.0 L1977.0,1162.4 L1978.0,1163.4 L1979.0,1161.1 L1980.0,1161.7 L1981.0,1160.3 L1982.0,1162.1 L1983.0,1164.1 L1984.0,1160.3 L1985.0,1161.4 L1986.0,1162.0 L1987.0,1162.6 L1988.0,1159.4 L1989.0,1159.4 L1990.0,1156.3 L1991.0,1156.4 L1992.0,1154.0 L1993.0,1154.5 L1994.0,1154.3 L1995.0,1156.7 L1996.0,1157.3 L1997.0,1157.9 L1998.0,1157.4 L1999.0,1161.4 L2000.0,1162.2 L2001.0,1162.6 L2002.0,1163.0 L2003.0,1164.5 L2004.0,1162.9 L2005.0,1161.1 L2006.0,1162.1 L2007.0,1162.2 L2008.0,1162.8 L2009.0,1164.6 L2010.0,1162.9 L2011.0,1162.2 L2012.0,1162.2 L2013.0,1162.2 L2014.0,1160.1 L2015.0,1160.9 L2016.0,1162.4 L2017.0,1161.8 L2018.0,1159.2 L2019.0,1161.6 L2020.0,1161.6 L2021.0,1162.5 L2022.0,1161.1 L2023.0,1163.2 L2024.0,1160.7 L2025.0,1158.6 L2026.0,1159.0 L2027.0,1159.6 L2028.0,1160.0 L2029.0,1159.0 L2030.0,1159.4 L2031.0,1160.1 L2032.0,1156.0 L2033.0,1159.2 L2034.0,1156.6 L2035.0,1158.2 L2036.0,1157.8 L2037.0,1158.9 L2038.0,1157.6 L2039.0,1156.0 L2040.0,1156.6 L2041.0,1155.7 L2042.0,1156.2 L2043.0,1155.4 L2044.0,1155.8 L2045.0,1156.3 L2046.0,1155.6 L2047.0,1155.6 L2048.0,1155.7 L2049.0,1155.8 L2050.0,1155.9 L2051.0,1157.5 L2052.0,1157.1 L2053.0,1154.3 L2054.0,1154.0 L2055.0,1156.7 L2056.0,1157.7 L2057.0,1155.5 L2058.0,1155.8 L2059.0,1158.0 L2060.0,1156.4 L2061.0,1158.8 L2062.0,1158.4 L2063.0,1157.7 L2064.0,1157.5 L2065.0,1154.8 L2066.0,1155.2 L2067.0,1156.6 L2068.0,1158.4 L2069.0,1155.8 L2070.0,1157.2 L2071.0,1155.9 L2072.0,1155.1 L2073.0,1154.4 L2074.0,1156.2 L2075.0,1159.6 L2076.0,1158.5 L2077.0,1158.5 L2078.0,1154.5 L2079.0,1155.4 L2080.0,1155.3 L2081.0,1157.4 L2082.0,1155.1 L2083.0,1154.4 L2084.0,1155.3 L2085.0,1155.1 L2086.0,1157.3 L2087.0,1156.7 L2088.0,1157.7 L2089.0,1157.7 L2090.0,1158.0 L2091.0,1157.6 L2092.0,1158.8 L2093.0,1156.6 L2094.0,1156.5 L2095.0,1156.4 L2096.0,1158.3 L2097.0,1156.0 L2098.0,1158.5 L2099.0,1155.0 L2100.0,1156.2 L2101.0,1156.3 L2102.0,1158.8 L2103.0,1158.0 L2104.0,1156.4 L2105.0,1158.3 L2106.0,1157.9 L2107.0,1159.8 L2108.0,1156.4 L2109.0,1157.9 L2110.0,1158.3 L2111.0,1157.7 L2112.0,1157.9 L2113.0,1159.7 L2114.0,1160.1 L2115.0,1159.2 L2116.0,1158.0 L2117.0,1158.8 L2118.0,1157.6 L2119.0,1159.5 L2120.0,1157.9 L2121.0,1158.6 L2122.0,1159.1 L2123.0,1156.1 L2124.0,1155.2 L2125.0,1154.3 L2126.0,1156.9 L2127.0,1160.2 L2128.0,1160.3 L2129.0,1158.2 L2130.0,1157.9 L2131.0,1156.5 L2132.0,1157.7 L2133.0,1157.5 L2134.0,1159.3 L2135.0,1156.6 L2136.0,1157.2 L2137.0,1155.9 L2138.0,1155.8 L2139.0,1156.9 L2140.0,1157.3 L2141.0,1157.1 L2142.0,1157.0 L2143.0,1156.5 L2144.0,1156.0 L2145.0,1157.1 L2146.0,1157.5 L2147.0,1155.5 L2148.0,1156.1 L2149.0,1155.3 L2150.0,1157.5 L2151.0,1157.7 L2152.0,1159.1 L2153.0,1159.4 L2154.0,1158.0 L2155.0,1157.5 L2156.0,1157.6 L2157.0,1158.9 L2158.0,1156.7 L2159.0,1155.7 L2160.0,1156.2 L2161.0,1156.0 L2162.0,1157.6 L2163.0,1157.6 L2164.0,1155.8 L2165.0,1155.3 L2166.0,1155.5 L2167.0,1155.8 L2168.0,1157.8 L2169.0,1154.6 L2170.0,1155.3 L2171.0,1156.5 L2172.0,1157.2 L2173.0,1156.9 L2174.0,1155.7 L2175.0,1156.6 L2176.0,1159.2 L2177.0,1158.0 L2178.0,1157.4 L2179.0,1157.1 L2180.0,1156.3 L2181.0,1157.6 L2182.0,1157.0 L2183.0,1159.4 L2184.0,1156.8 L2185.0,1156.3 L2186.0,1156.5 L2187.0,1158.4 L2188.0,1156.1 L2189.0,1156.0 L2190.0,1154.9 L2191.0,1155.8 L2192.0,1155.4 L2193.0,1155.1 L2194.0,1157.1 L2195.0,1157.4 L2196.0,1155.9 L2197.0,1154.1 L2198.0,1155.0 L2199.0,1156.4 L2201.5,1157.9 L2204.0,1157.9" fill="none" stroke="#0000ff" stroke-width="11.5" stroke-linejoin="round" stroke-linecap="butt"/>
<path d="M252.7,641.4 L255.0,641.4 L257.0,642.6 L258.0,642.5 L259.0,641.2 L260.0,643.0 L261.0,643.4 L262.0,643.9 L263.0,640.3 L264.0,641.5 L265.0,642.3 L266.0,642.0 L267.0,642.2 L268.0,641.3 L269.0,641.3 L270.0,642.3 L271.0,641.0 L272.0,639.7 L273.0,642.1 L274.0,643.2 L275.0,642.7 L276.0,642.2 L277.0,643.7 L278.0,642.4 L279.0,642.3 L280.0,642.9 L281.0,644.0 L282.0,643.3 L283.0,642.9 L284.0,641.6 L285.0,642.2 L286.0,641.1 L287.0,642.3 L288.0,641.5 L289.0,641.5 L290.0,640.9 L291.0,641.2 L292.0,641.4 L293.0,643.7 L294.0,643.1 L295.0,642.1 L296.0,641.8 L297.0,644.1 L298.0,643.0 L299.0,643.5 L300.0,644.2 L301.0,643.3 L302.0,643.5 L303.0,643.3 L304.0,642.6 L305.0,642.5 L306.0,641.6 L307.0,639.3 L308.0,642.4 L309.0,644.3 L310.0,643.4 L311.0,644.7 L312.0,642.6 L313.0,643.0 L314.0,641.7 L315.0,642.3 L316.0,642.8 L317.0,643.6 L318.0,643.3 L319.0,641.0 L320.0,643.6 L321.0,644.5 L322.0,644.9 L323.0,643.1 L324.0,643.8 L325.0,643.8 L326.0,642.3 L327.0,642.3 L328.0,645.2 L329.0,643.3 L330.0,643.4 L331.0,641.9 L332.0,642.9 L333.0,644.5 L334.0,644.0 L335.0,642.9 L336.0,643.0 L337.0,643.2 L338.0,643.7 L339.0,642.4 L340.0,643.3 L341.0,642.8 L342.0,643.0 L343.0,642.2 L344.0,642.1 L345.0,643.2 L346.0,641.2 L347.0,642.5 L348.0,644.6 L349.0,641.8 L350.0,642.5 L351.0,642.6 L352.0,643.8 L353.0,641.3 L354.0,642.9 L355.0,642.5 L356.0,644.3 L357.0,642.5 L358.0,644.2 L359.0,641.3 L360.0,642.0 L361.0,641.1 L362.0,641.9 L363.0,641.3 L364.0,641.7 L365.0,643.4 L366.0,642.3 L367.0,645.4 L368.0,645.4 L369.0,644.5 L370.0,643.8 L371.0,643.9 L372.0,643.2 L373.0,644.0 L374.0,643.1 L375.0,641.4 L376.0,643.1 L377.0,643.0 L378.0,641.7 L379.0,641.6 L380.0,641.9 L381.0,642.5 L382.0,644.3 L383.0,644.5 L384.0,642.5 L385.0,643.0 L386.0,641.5 L387.0,643.3 L388.0,641.6 L389.0,642.4 L390.0,643.4 L391.0,642.3 L392.0,642.5 L393.0,643.2 L394.0,641.9 L395.0,642.7 L396.0,643.6 L397.0,643.2 L398.0,642.4 L399.0,642.7 L400.0,642.5 L401.0,642.1 L402.0,642.0 L403.0,640.2 L404.0,641.6 L405.0,641.9 L406.0,642.9 L407.0,640.6 L408.0,641.2 L409.0,643.0 L410.0,642.3 L411.0,642.8 L412.0,641.5 L413.0,640.8 L414.0,641.0 L415.0,642.1 L416.0,642.1 L417.0,641.8 L418.0,641.7 L419.0,642.7 L420.0,642.5 L421.0,642.6 L422.0,643.5 L423.0,642.7 L424.0,641.4 L425.0,642.9 L426.0,642.9 L427.0,642.7 L428.0,641.7 L429.0,641.2 L430.0,642.2 L431.0,641.1 L432.0,640.1 L433.0,641.8 L434.0,641.3 L435.0,641.8 L436.0,640.7 L437.0,641.7 L438.0,642.4 L439.0,642.8 L440.0,643.8 L441.0,642.1 L442.0,644.1 L443.0,641.0 L444.0,642.9 L445.0,642.3 L446.0,640.4 L447.0,640.7 L448.0,639.7 L449.0,640.2 L450.0,641.1 L451.0,640.6 L452.0,640.3 L453.0,641.2 L454.0,640.9 L455.0,641.1 L456.0,642.0 L457.0,641.4 L458.0,643.9 L459.0,643.9 L460.0,642.7 L461.0,642.2 L462.0,642.4 L463.0,641.9 L464.0,641.2 L465.0,641.1 L466.0,642.3 L467.0,642.0 L468.0,642.3 L469.0,642.0 L470.0,641.3 L471.0,642.4 L472.0,641.0 L473.0,642.1 L474.0,641.8 L475.0,641.7 L476.0,642.6 L477.0,642.8 L478.0,641.8 L479.0,642.3 L480.0,642.1 L481.0,642.2 L482.0,642.0 L483.0,642.4 L484.0,642.6 L485.0,643.7 L486.0,642.2 L487.0,642.8 L488.0,642.3 L489.0,644.1 L490.0,642.6 L491.0,641.8 L492.0,640.9 L493.0,640.9 L494.0,640.7 L495.0,641.0 L496.0,641.9 L497.0,639.1 L498.0,636.8 L499.0,635.5 L500.0,636.9 L501.0,636.0 L502.0,636.6 L503.0,638.5 L504.0,639.3 L505.0,639.0 L506.0,638.4 L507.0,635.2 L508.0,634.3 L509.0,633.9 L510.0,634.7 L511.0,636.1 L512.0,637.0 L513.0,639.6 L514.0,639.4 L515.0,642.6 L516.0,639.7 L517.0,642.7 L518.0,641.0 L519.0,640.9 L520.0,639.3 L521.0,640.4 L522.0,641.3 L523.0,640.6 L524.0,640.1 L525.0,639.5 L526.0,639.7 L527.0,639.8 L528.0,639.5 L529.0,638.8 L530.0,638.2 L531.0,635.4 L532.0,631.9 L533.0,630.1 L534.0,627.1 L535.0,620.3 L536.0,613.1 L537.0,599.2 L538.0,581.5 L539.0,561.9 L540.0,543.9 L541.0,545.7 L542.0,557.8 L543.0,573.8 L544.0,589.0 L545.0,603.4 L546.0,615.4 L547.0,624.5 L548.0,628.6 L549.0,631.9 L550.0,634.6 L551.0,636.4 L552.0,637.7 L553.0,638.6 L554.0,640.4 L555.0,639.9 L556.0,639.5 L557.0,641.8 L558.0,638.7 L559.0,640.0 L560.0,639.2 L561.0,641.1 L562.0,639.4 L563.0,640.7 L564.0,641.1 L565.0,642.1 L566.0,640.9 L567.0,642.9 L568.0,640.9 L569.0,642.1 L570.0,642.1 L571.0,641.8 L572.0,641.8 L573.0,640.3 L574.0,642.2 L575.0,642.2 L576.0,643.7 L577.0,642.7 L578.0,643.0 L579.0,643.7 L580.0,642.7 L581.0,640.6 L582.0,641.0 L583.0,640.1 L584.0,643.0 L585.0,642.0 L586.0,641.2 L587.0,642.7 L588.0,641.7 L589.0,641.4 L590.0,642.6 L591.0,640.3 L592.0,641.1 L593.0,642.4 L594.0,642.2 L595.0,642.7 L596.0,640.9 L597.0,641.6 L598.0,642.7 L599.0,640.4 L600.0,640.6 L601.0,641.3 L602.0,641.8 L603.0,641.0 L604.0,641.7 L605.0,640.4 L606.0,641.3 L607.0,640.9 L608.0,641.9 L609.0,642.2 L610.0,642.5 L611.0,640.9 L612.0,641.9 L613.0,640.9 L614.0,643.7 L615.0,641.9 L616.0,642.2 L617.0,642.5 L618.0,644.2 L619.0,641.2 L620.0,643.1 L621.0,641.7 L622.0,643.8 L623.0,641.9 L624.0,642.1 L625.0,642.6 L626.0,642.0 L627.0,641.9 L628.0,642.8 L629.0,641.6 L630.0,643.1 L631.0,643.4 L632.0,643.5 L633.0,643.9 L634.0,643.9 L635.0,642.3 L636.0,643.7 L637.0,640.5 L638.0,643.3 L639.0,643.0 L640.0,641.0 L641.0,642.6 L642.0,640.2 L643.0,643.1 L644.0,642.0 L645.0,641.4 L646.0,640.9 L647.0,640.2 L648.0,641.4 L649.0,641.1 L650.0,641.4 L651.0,641.8 L652.0,641.4 L653.0,640.7 L654.0,642.4 L655.0,643.3 L656.0,642.0 L657.0,643.8 L658.0,644.6 L659.0,644.1 L660.0,644.5 L661.0,641.0 L662.0,643.5 L663.0,641.7 L664.0,642.5 L665.0,641.6 L666.0,644.1 L667.0,641.6 L668.0,642.6 L669.0,641.5 L670.0,642.6 L671.0,642.6 L672.0,641.5 L673.0,640.8 L674.0,642.1 L675.0,639.1 L676.0,640.8 L677.0,641.1 L678.0,641.1 L679.0,642.3 L680.0,642.5 L681.0,642.5 L682.0,642.9 L683.0,641.7 L684.0,642.2 L685.0,643.2 L686.0,642.1 L687.0,640.9 L688.0,640.1 L689.0,642.3 L690.0,642.4 L691.0,642.4 L692.0,642.5 L693.0,641.5 L694.0,641.9 L695.0,641.7 L696.0,640.0 L697.0,640.2 L698.0,641.2 L699.0,642.8 L700.0,641.7 L701.0,640.7 L702.0,643.0 L703.0,642.5 L704.0,642.1 L705.0,640.7 L706.0,640.6 L707.0,642.2 L708.0,641.5 L709.0,644.5 L710.0,639.8 L711.0,640.6 L712.0,642.1 L713.0,641.8 L714.0,641.3 L715.0,641.2 L716.0,641.6 L717.0,640.2 L718.0,642.2 L719.0,642.0 L720.0,641.3 L721.0,642.3 L722.0,642.5 L723.0,640.9 L724.0,641.6 L725.0,641.9 L726.0,640.8 L727.0,641.7 L728.0,643.3 L729.0,642.7 L730.0,641.5 L731.0,642.9 L732.0,641.2 L733.0,641.3 L734.0,639.8 L735.0,641.6 L736.0,640.3 L737.0,640.4 L738.0,639.9 L739.0,638.8 L740.0,639.7 L741.0,638.2 L742.0,639.7 L743.0,637.1 L744.0,636.7 L745.0,634.1 L746.0,632.7 L747.0,628.3 L748.0,626.4 L749.0,623.0 L750.0,620.1 L751.0,619.1 L752.0,619.7 L753.0,619.1 L754.0,623.8 L755.0,625.0 L756.0,628.6 L757.0,632.5 L758.0,631.7 L759.0,634.8 L760.0,637.9 L761.0,638.8 L762.0,639.6 L763.0,639.9 L764.0,641.4 L765.0,640.5 L766.0,641.5 L767.0,642.7 L768.0,641.3 L769.0,641.5 L770.0,641.0 L771.0,640.1 L772.0,639.4 L773.0,640.2 L774.0,640.4 L775.0,640.1 L776.0,640.5 L777.0,640.8 L778.0,641.6 L779.0,641.7 L780.0,640.8 L781.0,643.0 L782.0,641.9 L783.0,641.9 L784.0,640.5 L785.0,642.5 L786.0,642.7 L787.0,640.3 L788.0,640.4 L789.0,638.9 L790.0,639.0 L791.0,638.0 L792.0,638.3 L793.0,637.6 L794.0,636.5 L795.0,633.8 L796.0,631.6 L797.0,629.9 L798.0,628.4 L799.0,620.3 L800.0,614.2 L801.0,607.0 L802.0,599.8 L803.0,598.1 L804.0,603.3 L805.0,608.5 L806.0,613.3 L807.0,621.3 L808.0,626.7 L809.0,630.2 L810.0,632.0 L811.0,636.1 L812.0,636.6 L813.0,636.2 L814.0,636.8 L815.0,635.0 L816.0,635.5 L817.0,637.1 L818.0,636.4 L819.0,635.2 L820.0,634.4 L821.0,635.7 L822.0,634.8 L823.0,634.7 L824.0,632.4 L825.0,632.4 L826.0,632.0 L827.0,631.9 L828.0,628.5 L829.0,628.1 L830.0,626.1 L831.0,624.1 L832.0,620.9 L833.0,618.4 L834.0,614.8 L835.0,607.5 L836.0,597.5 L837.0,585.6 L838.0,568.5 L839.0,543.2 L840.0,511.0 L841.0,475.7 L842.0,437.2 L843.0,410.3 L844.0,399.6 L845.0,406.6 L846.0,423.2 L847.0,441.0 L848.0,451.8 L849.0,457.0 L850.0,451.2 L851.0,442.2 L852.0,436.4 L853.0,432.2 L854.0,457.1 L855.0,520.9 L856.0,569.7 L857.0,596.7 L858.0,612.1 L859.0,621.9 L860.0,630.0 L861.0,632.6 L862.0,633.8 L863.0,636.6 L864.0,636.5 L865.0,635.0 L866.0,635.5 L867.0,636.7 L868.0,638.1 L869.0,638.5 L870.0,638.1 L871.0,638.6 L872.0,638.9 L873.0,640.5 L874.0,640.9 L875.0,639.1 L876.0,641.3 L877.0,639.9 L878.0,640.3 L879.0,641.6 L880.0,640.3 L881.0,639.4 L882.0,638.0 L883.0,640.3 L884.0,640.0 L885.0,639.7 L886.0,641.0 L887.0,640.2 L888.0,642.2 L889.0,640.5 L890.0,640.6 L891.0,640.8 L892.0,641.6 L893.0,642.6 L894.0,641.7 L895.0,640.3 L896.0,639.9 L897.0,641.2 L898.0,640.7 L899.0,639.6 L900.0,640.6 L901.0,641.7 L902.0,642.7 L903.0,641.4 L904.0,641.8 L905.0,640.4 L906.0,641.0 L907.0,641.6 L908.0,642.9 L909.0,641.9 L910.0,643.3 L911.0,641.9 L912.0,642.5 L913.0,641.6 L914.0,640.8 L915.0,640.8 L916.0,642.2 L917.0,643.4 L918.0,641.4 L919.0,641.5 L920.0,642.7 L921.0,641.9 L922.0,641.7 L923.0,641.8 L924.0,642.0 L925.0,641.9 L926.0,641.9 L927.0,643.7 L928.0,641.5 L929.0,641.2 L930.0,641.9 L931.0,642.6 L932.0,642.8 L933.0,643.2 L934.0,643.0 L935.0,641.9 L936.0,641.8 L937.0,642.3 L938.0,641.4 L939.0,641.7 L940.0,640.7 L941.0,641.8 L942.0,641.7 L943.0,640.7 L944.0,642.0 L945.0,643.7 L946.0,642.3 L947.0,641.0 L948.0,641.8 L949.0,639.9 L950.0,638.8 L951.0,639.4 L952.0,638.6 L953.0,638.6 L954.0,635.3 L955.0,634.7 L956.0,633.5 L957.0,632.0 L958.0,629.2 L959.0,628.3 L960.0,624.5 L961.0,623.3 L962.0,621.9 L963.0,621.5 L964.0,621.7 L965.0,621.8 L966.0,624.1 L967.0,625.6 L968.0,626.5 L969.0,628.5 L970.0,630.7 L971.0,634.6 L972.0,635.7 L973.0,636.5 L974.0,638.3 L975.0,636.8 L976.0,638.0 L977.0,639.3 L978.0,640.7 L979.0,640.4 L980.0,640.0 L981.0,639.5 L982.0,639.5 L983.0,640.6 L984.0,640.4 L985.0,639.5 L986.0,642.4 L987.0,640.5 L988.0,640.4 L989.0,640.5 L990.0,640.7 L991.0,640.5 L992.0,640.8 L993.0,641.3 L994.0,641.6 L995.0,640.9 L996.0,641.9 L997.0,641.8 L998.0,642.3 L999.0,642.5 L1000.0,642.1 L1001.0,643.2 L1002.0,642.3 L1003.0,642.9 L1004.0,642.3 L1005.0,641.0 L1006.0,640.8 L1007.0,641.4 L1008.0,640.4 L1009.0,640.7 L1010.0,641.2 L1011.0,639.0 L1012.0,641.6 L1013.0,641.5 L1014.0,642.0 L1015.0,640.3 L1016.0,641.1 L1017.0,642.2 L1018.0,642.5 L1019.0,641.7 L1020.0,641.6 L1021.0,642.8 L1022.0,641.6 L1023.0,642.8 L1024.0,640.8 L1025.0,641.2 L1026.0,639.3 L1027.0,638.6 L1028.0,639.5 L1029.0,636.8 L1030.0,635.9 L1031.0,635.4 L1032.0,634.8 L1033.0,632.3 L1034.0,629.0 L1035.0,625.1 L1036.0,617.7 L1037.0,609.4 L1038.0,596.0 L1039.0,579.8 L1040.0,565.6 L1041.0,564.0 L1042.0,570.8 L1043.0,582.5 L1044.0,590.8 L1045.0,597.7 L1046.0,608.0 L1047.0,617.2 L1048.0,624.2 L1049.0,629.9 L1050.0,632.2 L1051.0,633.1 L1052.0,634.6 L1053.0,636.8 L1054.0,635.5 L1055.0,635.8 L1056.0,637.9 L1057.0,637.5 L1058.0,640.4 L1059.0,640.8 L1060.0,640.6 L1061.0,641.3 L1062.0,640.8 L1063.0,642.3 L1064.0,642.6 L1065.0,642.2 L1066.0,641.6 L1067.0,640.7 L1068.0,642.1 L1069.0,641.7 L1070.0,640.0 L1071.0,642.2 L1072.0,641.0 L1073.0,641.5 L1074.0,640.4 L1075.0,641.0 L1076.0,640.1 L1077.0,640.3 L1078.0,640.2 L1079.0,640.0 L1080.0,640.8 L1081.0,641.7 L1082.0,640.8 L1083.0,642.0 L1084.0,643.4 L1085.0,642.4 L1086.0,643.9 L1087.0,642.6 L1088.0,642.6 L1089.0,642.5 L1090.0,642.5 L1091.0,640.2 L1092.0,642.4 L1093.0,641.6 L1094.0,642.1 L1095.0,640.8 L1096.0,639.0 L1097.0,641.9 L1098.0,641.9 L1099.0,640.6 L1100.0,640.5 L1101.0,640.2 L1102.0,641.5 L1103.0,643.2 L1104.0,641.4 L1105.0,639.9 L1106.0,641.5 L1107.0,640.4 L1108.0,640.5 L1109.0,642.5 L1110.0,642.3 L1111.0,642.1 L1112.0,642.3 L1113.0,642.5 L1114.0,640.2 L1115.0,642.3 L1116.0,643.1 L1117.0,643.0 L1118.0,641.2 L1119.0,640.7 L1120.0,640.7 L1121.0,641.5 L1122.0,640.9 L1123.0,641.8 L1124.0,641.3 L1125.0,640.6 L1126.0,640.4 L1127.0,641.0 L1128.0,642.1 L1129.0,642.7 L1130.0,640.7 L1131.0,641.8 L1132.0,641.2 L1133.0,640.3 L1134.0,639.8 L1135.0,641.7 L1136.0,640.6 L1137.0,641.4 L1138.0,641.4 L1139.0,640.6 L1140.0,640.6 L1141.0,639.1 L1142.0,639.3 L1143.0,639.7 L1144.0,639.2 L1145.0,637.1 L1146.0,634.6 L1147.0,634.3 L1148.0,631.5 L1149.0,628.5 L1150.0,623.7 L1151.0,616.9 L1152.0,611.0 L1153.0,604.8 L1154.0,595.6 L1155.0,590.6 L1156.0,589.2 L1157.0,594.7 L1158.0,602.2 L1159.0,607.2 L1160.0,611.5 L1161.0,618.0 L1162.0,623.2 L1163.0,628.1 L1164.0,631.1 L1165.0,633.9 L1166.0,636.0 L1167.0,636.9 L1168.0,636.7 L1169.0,638.4 L1170.0,638.6 L1171.0,639.1 L1172.0,639.4 L1173.0,637.3 L1174.0,635.1 L1175.0,632.9 L1176.0,629.0 L1177.0,625.1 L1178.0,625.4 L1179.0,626.2 L1180.0,628.1 L1181.0,628.6 L1182.0,630.1 L1183.0,632.2 L1184.0,633.8 L1185.0,637.6 L1186.0,639.2 L1187.0,638.7 L1188.0,641.9 L1189.0,640.3 L1190.0,640.7 L1191.0,643.8 L1192.0,641.8 L1193.0,643.4 L1194.0,643.2 L1195.0,643.4 L1196.0,642.9 L1197.0,642.4 L1198.0,643.4 L1199.0,641.8 L1200.0,641.7 L1201.0,642.2 L1202.0,641.5 L1203.0,641.2 L1204.0,642.1 L1205.0,642.6 L1206.0,642.4 L1207.0,642.7 L1208.0,642.6 L1209.0,642.3 L1210.0,642.5 L1211.0,642.9 L1212.0,642.5 L1213.0,641.1 L1214.0,641.8 L1215.0,640.6 L1216.0,642.1 L1217.0,642.4 L1218.0,640.0 L1219.0,639.6 L1220.0,641.0 L1221.0,640.6 L1222.0,639.0 L1223.0,639.3 L1224.0,640.3 L1225.0,639.1 L1226.0,641.1 L1227.0,638.4 L1228.0,639.8 L1229.0,637.2 L1230.0,636.9 L1231.0,634.8 L1232.0,633.4 L1233.0,629.6 L1234.0,624.7 L1235.0,617.6 L1236.0,608.9 L1237.0,596.5 L1238.0,585.5 L1239.0,577.4 L1240.0,576.9 L1241.0,581.2 L1242.0,588.6 L1243.0,596.0 L1244.0,602.7 L1245.0,609.0 L1246.0,614.5 L1247.0,622.5 L1248.0,627.1 L1249.0,631.3 L1250.0,634.1 L1251.0,633.9 L1252.0,636.0 L1253.0,636.5 L1254.0,634.0 L1255.0,635.1 L1256.0,634.2 L1257.0,633.4 L1258.0,634.1 L1259.0,632.2 L1260.0,628.7 L1261.0,626.8 L1262.0,622.4 L1263.0,615.3 L1264.0,608.2 L1265.0,599.7 L1266.0,592.5 L1267.0,586.7 L1268.0,585.9 L1269.0,588.7 L1270.0,595.4 L1271.0,603.2 L1272.0,607.8 L1273.0,612.8 L1274.0,617.8 L1275.0,626.1 L1276.0,628.2 L1277.0,631.2 L1278.0,633.2 L1279.0,636.3 L1280.0,637.2 L1281.0,636.7 L1282.0,639.3 L1283.0,640.9 L1284.0,639.2 L1285.0,638.7 L1286.0,640.3 L1287.0,638.1 L1288.0,639.0 L1289.0,640.4 L1290.0,642.2 L1291.0,640.8 L1292.0,639.5 L1293.0,641.1 L1294.0,641.3 L1295.0,642.0 L1296.0,640.9 L1297.0,641.0 L1298.0,639.5 L1299.0,639.1 L1300.0,640.4 L1301.0,641.9 L1302.0,639.6 L1303.0,638.7 L1304.0,641.1 L1305.0,640.4 L1306.0,640.1 L1307.0,638.9 L1308.0,638.9 L1309.0,637.9 L1310.0,637.7 L1311.0,639.2 L1312.0,636.7 L1313.0,635.5 L1314.0,635.6 L1315.0,635.7 L1316.0,637.6 L1317.0,636.8 L1318.0,637.7 L1319.0,636.6 L1320.0,638.7 L1321.0,639.0 L1322.0,638.6 L1323.0,636.7 L1324.0,638.1 L1325.0,636.7 L1326.0,639.8 L1327.0,638.1 L1328.0,638.9 L1329.0,638.4 L1330.0,637.1 L1331.0,635.3 L1332.0,635.0 L1333.0,634.5 L1334.0,630.9 L1335.0,632.3 L1336.0,631.0 L1337.0,628.7 L1338.0,625.6 L1339.0,623.5 L1340.0,618.8 L1341.0,615.2 L1342.0,610.4 L1343.0,602.9 L1344.0,593.9 L1345.0,578.2 L1346.0,557.4 L1347.0,537.3 L1348.0,510.8 L1349.0,488.0 L1350.0,478.7 L1351.0,490.3 L1352.0,511.3 L1353.0,537.2 L1354.0,558.9 L1355.0,578.8 L1356.0,594.5 L1357.0,604.1 L1358.0,611.2 L1359.0,617.2 L1360.0,620.3 L1361.0,622.4 L1362.0,626.6 L1363.0,626.3 L1364.0,627.5 L1365.0,630.1 L1366.0,631.5 L1367.0,631.3 L1368.0,632.7 L1369.0,631.7 L1370.0,628.8 L1371.0,632.4 L1372.0,630.1 L1373.0,631.6 L1374.0,628.7 L1375.0,627.2 L1376.0,624.0 L1377.0,619.3 L1378.0,614.9 L1379.0,607.6 L1380.0,594.0 L1381.0,570.8 L1382.0,536.9 L1383.0,483.1 L1384.0,406.1 L1385.0,320.8 L1386.0,283.7 L1387.0,312.8 L1388.0,367.5 L1389.0,411.0 L1390.0,439.1 L1391.0,458.3 L1392.0,492.9 L1393.0,535.6 L1394.0,569.4 L1395.0,588.3 L1396.0,601.9 L1397.0,606.8 L1398.0,607.2 L1399.0,605.4 L1400.0,602.5 L1401.0,602.8 L1402.0,608.0 L1403.0,613.9 L1404.0,622.4 L1405.0,627.1 L1406.0,630.9 L1407.0,633.3 L1408.0,634.7 L1409.0,636.3 L1410.0,636.0 L1411.0,636.3 L1412.0,636.1 L1413.0,636.1 L1414.0,637.9 L1415.0,637.0 L1416.0,638.0 L1417.0,640.0 L1418.0,639.8 L1419.0,640.5 L1420.0,639.5 L1421.0,640.0 L1422.0,641.1 L1423.0,640.5 L1424.0,641.2 L1425.0,641.5 L1426.0,640.5 L1427.0,641.2 L1428.0,639.7 L1429.0,639.2 L1430.0,639.6 L1431.0,641.0 L1432.0,640.3 L1433.0,639.5 L1434.0,642.7 L1435.0,641.9 L1436.0,640.0 L1437.0,639.8 L1438.0,640.3 L1439.0,642.3 L1440.0,642.7 L1441.0,642.8 L1442.0,644.1 L1443.0,642.3 L1444.0,641.5 L1445.0,641.7 L1446.0,641.1 L1447.0,641.3 L1448.0,641.7 L1449.0,640.2 L1450.0,642.3 L1451.0,638.8 L1452.0,640.0 L1453.0,639.7 L1454.0,639.3 L1455.0,637.4 L1456.0,634.4 L1457.0,632.8 L1458.0,630.7 L1459.0,631.3 L1460.0,631.7 L1461.0,631.6 L1462.0,636.5 L1463.0,635.3 L1464.0,636.2 L1465.0,636.2 L1466.0,634.3 L1467.0,633.0 L1468.0,630.7 L1469.0,629.3 L1470.0,628.1 L1471.0,628.2 L1472.0,629.7 L1473.0,630.1 L1474.0,631.4 L1475.0,630.2 L1476.0,629.2 L1477.0,623.6 L1478.0,620.9 L1479.0,615.0 L1480.0,606.7 L1481.0,602.1 L1482.0,599.2 L1483.0,601.8 L1484.0,608.0 L1485.0,615.6 L1486.0,622.7 L1487.0,628.1 L1488.0,631.8 L1489.0,633.6 L1490.0,636.5 L1491.0,637.3 L1492.0,638.8 L1493.0,640.8 L1494.0,641.3 L1495.0,641.7 L1496.0,639.5 L1497.0,639.8 L1498.0,639.7 L1499.0,639.7 L1500.0,639.7 L1501.0,639.9 L1502.0,639.3 L1503.0,639.2 L1504.0,635.8 L1505.0,635.3 L1506.0,632.8 L1507.0,631.4 L1508.0,627.8 L1509.0,629.7 L1510.0,625.2 L1511.0,625.7 L1512.0,623.5 L1513.0,624.4 L1514.0,624.0 L1515.0,623.5 L1516.0,624.9 L1517.0,626.7 L1518.0,628.1 L1519.0,627.7 L1520.0,630.8 L1521.0,630.6 L1522.0,630.1 L1523.0,631.6 L1524.0,628.4 L1525.0,626.8 L1526.0,623.4 L1527.0,614.3 L1528.0,600.4 L1529.0,579.2 L1530.0,546.3 L1531.0,510.2 L1532.0,489.9 L1533.0,500.6 L1534.0,524.7 L1535.0,543.1 L1536.0,556.0 L1537.0,562.8 L1538.0,570.6 L1539.0,589.5 L1540.0,605.4 L1541.0,617.0 L1542.0,625.0 L1543.0,629.1 L1544.0,631.1 L1545.0,636.1 L1546.0,635.0 L1547.0,634.4 L1548.0,636.6 L1549.0,638.5 L1550.0,637.8 L1551.0,638.2 L1552.0,637.4 L1553.0,639.1 L1554.0,639.0 L1555.0,641.3 L1556.0,640.7 L1557.0,641.0 L1558.0,640.7 L1559.0,642.5 L1560.0,640.7 L1561.0,641.5 L1562.0,641.5 L1563.0,640.5 L1564.0,640.0 L1565.0,641.9 L1566.0,642.0 L1567.0,639.8 L1568.0,640.5 L1569.0,639.6 L1570.0,639.2 L1571.0,638.9 L1572.0,637.9 L1573.0,639.4 L1574.0,638.1 L1575.0,637.6 L1576.0,637.7 L1577.0,637.2 L1578.0,635.3 L1579.0,634.5 L1580.0,631.6 L1581.0,628.8 L1582.0,625.5 L1583.0,622.5 L1584.0,618.7 L1585.0,619.0 L1586.0,620.8 L1587.0,621.2 L1588.0,623.7 L1589.0,626.4 L1590.0,627.2 L1591.0,629.5 L1592.0,630.1 L1593.0,631.1 L1594.0,631.8 L1595.0,632.0 L1596.0,632.2 L1597.0,633.1 L1598.0,632.5 L1599.0,632.1 L1600.0,635.2 L1601.0,635.3 L1602.0,635.8 L1603.0,637.8 L1604.0,638.1 L1605.0,639.2 L1606.0,638.5 L1607.0,641.5 L1608.0,641.6 L1609.0,640.7 L1610.0,642.2 L1611.0,640.5 L1612.0,641.0 L1613.0,639.8 L1614.0,639.8 L1615.0,639.2 L1616.0,637.4 L1617.0,638.2 L1618.0,637.9 L1619.0,636.8 L1620.0,639.2 L1621.0,636.6 L1622.0,639.8 L1623.0,641.1 L1624.0,640.4 L1625.0,639.9 L1626.0,642.3 L1627.0,640.4 L1628.0,642.7 L1629.0,641.1 L1630.0,642.3 L1631.0,642.1 L1632.0,641.5 L1633.0,643.4 L1634.0,644.2 L1635.0,641.9 L1636.0,643.1 L1637.0,642.5 L1638.0,642.1 L1639.0,642.5 L1640.0,643.4 L1641.0,643.6 L1642.0,642.3 L1643.0,640.2 L1644.0,642.4 L1645.0,641.9 L1646.0,639.9 L1647.0,640.9 L1648.0,641.3 L1649.0,640.8 L1650.0,640.9 L1651.0,639.6 L1652.0,640.7 L1653.0,638.3 L1654.0,641.5 L1655.0,641.1 L1656.0,641.7 L1657.0,642.7 L1658.0,643.5 L1659.0,641.6 L1660.0,642.2 L1661.0,641.5 L1662.0,642.5 L1663.0,641.7 L1664.0,640.8 L1665.0,642.8 L1666.0,642.5 L1667.0,642.2 L1668.0,643.0 L1669.0,640.1 L1670.0,641.4 L1671.0,642.6 L1672.0,641.2 L1673.0,640.8 L1674.0,640.8 L1675.0,642.6 L1676.0,642.7 L1677.0,642.3 L1678.0,642.6 L1679.0,640.9 L1680.0,640.9 L1681.0,641.6 L1682.0,639.6 L1683.0,640.2 L1684.0,639.8 L1685.0,638.8 L1686.0,639.4 L1687.0,637.8 L1688.0,638.1 L1689.0,637.6 L1690.0,639.4 L1691.0,640.5 L1692.0,641.4 L1693.0,641.4 L1694.0,641.0 L1695.0,642.0 L1696.0,644.1 L1697.0,642.1 L1698.0,641.6 L1699.0,639.1 L1700.0,640.7 L1701.0,642.6 L1702.0,640.7 L1703.0,640.8 L1704.0,640.3 L1705.0,640.2 L1706.0,640.9 L1707.0,639.5 L1708.0,642.2 L1709.0,639.8 L1710.0,640.9 L1711.0,641.6 L1712.0,640.4 L1713.0,640.6 L1714.0,640.7 L1715.0,642.3 L1716.0,639.9 L1717.0,641.7 L1718.0,642.7 L1719.0,640.5 L1720.0,640.1 L1721.0,641.1 L1722.0,640.5 L1723.0,641.0 L1724.0,640.3 L1725.0,639.3 L1726.0,638.0 L1727.0,638.8 L1728.0,635.9 L1729.0,633.8 L1730.0,633.7 L1731.0,629.8 L1732.0,626.3 L1733.0,622.9 L1734.0,621.0 L1735.0,619.6 L1736.0,619.4 L1737.0,620.5 L1738.0,623.0 L1739.0,624.2 L1740.0,627.6 L1741.0,629.2 L1742.0,628.8 L1743.0,630.0 L1744.0,630.8 L1745.0,632.0 L1746.0,633.0 L1747.0,631.1 L1748.0,629.8 L1749.0,629.6 L1750.0,626.9 L1751.0,628.2 L1752.0,628.4 L1753.0,631.2 L1754.0,633.0 L1755.0,635.7 L1756.0,636.7 L1757.0,636.7 L1758.0,638.5 L1759.0,638.0 L1760.0,638.7 L1761.0,639.1 L1762.0,640.3 L1763.0,639.7 L1764.0,640.3 L1765.0,641.9 L1766.0,641.7 L1767.0,643.6 L1768.0,641.9 L1769.0,642.1 L1770.0,642.2 L1771.0,643.0 L1772.0,642.3 L1773.0,641.4 L1774.0,641.0 L1775.0,642.0 L1776.0,641.0 L1777.0,640.4 L1778.0,641.3 L1779.0,641.4 L1780.0,641.0 L1781.0,641.7 L1782.0,643.3 L1783.0,641.5 L1784.0,641.8 L1785.0,642.4 L1786.0,643.1 L1787.0,640.7 L1788.0,641.3 L1789.0,640.6 L1790.0,642.4 L1791.0,641.7 L1792.0,641.6 L1793.0,642.1 L1794.0,642.1 L1795.0,640.8 L1796.0,643.3 L1797.0,640.0 L1798.0,642.2 L1799.0,642.5 L1800.0,641.7 L1801.0,641.6 L1802.0,640.5 L1803.0,641.2 L1804.0,640.5 L1805.0,639.5 L1806.0,641.0 L1807.0,639.6 L1808.0,640.2 L1809.0,639.1 L1810.0,640.7 L1811.0,641.0 L1812.0,641.6 L1813.0,639.6 L1814.0,639.2 L1815.0,638.9 L1816.0,637.8 L1817.0,639.0 L1818.0,640.5 L1819.0,639.0 L1820.0,638.5 L1821.0,636.7 L1822.0,637.0 L1823.0,636.1 L1824.0,636.7 L1825.0,634.6 L1826.0,635.7 L1827.0,633.7 L1828.0,632.9 L1829.0,631.5 L1830.0,630.5 L1831.0,627.5 L1832.0,625.6 L1833.0,623.2 L1834.0,615.4 L1835.0,609.7 L1836.0,597.5 L1837.0,577.7 L1838.0,546.0 L1839.0,495.4 L1840.0,413.6 L1841.0,310.4 L1842.0,235.3 L1843.0,253.6 L1844.0,322.6 L1845.0,376.1 L1846.0,404.6 L1847.0,421.3 L1848.0,429.4 L1849.0,448.1 L1850.0,498.2 L1851.0,544.0 L1852.0,576.7 L1853.0,597.8 L1854.0,607.7 L1855.0,616.6 L1856.0,620.7 L1857.0,625.0 L1858.0,627.5 L1859.0,628.3 L1860.0,628.7 L1861.0,626.8 L1862.0,625.9 L1863.0,623.5 L1864.0,622.8 L1865.0,622.9 L1866.0,623.3 L1867.0,627.5 L1868.0,631.5 L1869.0,634.0 L1870.0,636.6 L1871.0,635.7 L1872.0,637.0 L1873.0,636.5 L1874.0,633.8 L1875.0,635.7 L1876.0,635.5 L1877.0,632.6 L1878.0,627.9 L1879.0,619.4 L1880.0,609.2 L1881.0,600.5 L1882.0,599.4 L1883.0,602.8 L1884.0,613.0 L1885.0,616.7 L1886.0,619.7 L1887.0,620.9 L1888.0,621.7 L1889.0,624.0 L1890.0,627.0 L1891.0,630.9 L1892.0,634.7 L1893.0,633.4 L1894.0,633.2 L1895.0,630.8 L1896.0,629.0 L1897.0,627.7 L1898.0,626.4 L1899.0,628.8 L1900.0,629.1 L1901.0,631.6 L1902.0,633.1 L1903.0,636.3 L1904.0,638.9 L1905.0,639.6 L1906.0,640.6 L1907.0,641.4 L1908.0,643.1 L1909.0,642.2 L1910.0,643.3 L1911.0,641.4 L1912.0,641.2 L1913.0,641.6 L1914.0,640.8 L1915.0,642.3 L1916.0,642.0 L1917.0,640.5 L1918.0,640.8 L1919.0,640.7 L1920.0,641.0 L1921.0,640.5 L1922.0,642.5 L1923.0,643.4 L1924.0,642.2 L1925.0,642.9 L1926.0,641.5 L1927.0,642.9 L1928.0,640.7 L1929.0,641.0 L1930.0,641.3 L1931.0,639.7 L1932.0,641.2 L1933.0,637.9 L1934.0,637.1 L1935.0,635.4 L1936.0,634.8 L1937.0,633.4 L1938.0,633.4 L1939.0,635.5 L1940.0,634.9 L1941.0,636.2 L1942.0,636.2 L1943.0,638.4 L1944.0,637.5 L1945.0,637.2 L1946.0,636.3 L1947.0,634.6 L1948.0,628.8 L1949.0,623.3 L1950.0,619.1 L1951.0,615.4 L1952.0,615.6 L1953.0,617.0 L1954.0,621.6 L1955.0,626.2 L1956.0,628.7 L1957.0,630.9 L1958.0,630.4 L1959.0,633.0 L1960.0,635.1 L1961.0,636.4 L1962.0,639.0 L1963.0,639.1 L1964.0,640.3 L1965.0,640.4 L1966.0,639.6 L1967.0,640.3 L1968.0,640.2 L1969.0,642.6 L1970.0,642.1 L1971.0,641.6 L1972.0,641.3 L1973.0,641.5 L1974.0,641.9 L1975.0,642.0 L1976.0,642.4 L1977.0,641.0 L1978.0,641.7 L1979.0,642.2 L1980.0,640.9 L1981.0,640.2 L1982.0,640.8 L1983.0,642.4 L1984.0,641.8 L1985.0,644.4 L1986.0,641.7 L1987.0,641.2 L1988.0,641.4 L1989.0,641.7 L1990.0,640.3 L1991.0,639.4 L1992.0,640.9 L1993.0,640.2 L1994.0,639.7 L1995.0,638.1 L1996.0,634.8 L1997.0,631.6 L1998.0,628.3 L1999.0,625.6 L2000.0,623.9 L2001.0,626.7 L2002.0,627.0 L2003.0,631.0 L2004.0,631.8 L2005.0,631.9 L2006.0,634.6 L2007.0,635.4 L2008.0,637.2 L2009.0,638.4 L2010.0,639.3 L2011.0,640.9 L2012.0,642.4 L2013.0,641.1 L2014.0,640.8 L2015.0,640.4 L2016.0,640.7 L2017.0,641.2 L2018.0,639.8 L2019.0,641.8 L2020.0,641.5 L2021.0,643.6 L2022.0,642.1 L2023.0,643.1 L2024.0,641.6 L2025.0,644.4 L2026.0,642.2 L2027.0,642.0 L2028.0,643.6 L2029.0,642.6 L2030.0,640.7 L2031.0,640.4 L2032.0,638.8 L2033.0,638.2 L2034.0,638.1 L2035.0,636.7 L2036.0,638.8 L2037.0,636.6 L2038.0,637.2 L2039.0,637.2 L2040.0,638.1 L2041.0,639.7 L2042.0,638.9 L2043.0,640.7 L2044.0,639.7 L2045.0,642.4 L2046.0,643.0 L2047.0,641.3 L2048.0,641.2 L2049.0,641.3 L2050.0,640.3 L2051.0,640.3 L2052.0,640.7 L2053.0,644.0 L2054.0,641.8 L2055.0,643.0 L2056.0,643.5 L2057.0,643.5 L2058.0,642.5 L2059.0,641.8 L2060.0,642.0 L2061.0,643.2 L2062.0,644.0 L2063.0,641.3 L2064.0,641.1 L2065.0,641.7 L2066.0,640.8 L2067.0,641.0 L2068.0,641.4 L2069.0,641.0 L2070.0,640.9 L2071.0,641.6 L2072.0,640.4 L2073.0,641.0 L2074.0,641.9 L2075.0,641.6 L2076.0,639.6 L2077.0,638.1 L2078.0,634.7 L2079.0,631.0 L2080.0,630.7 L2081.0,628.5 L2082.0,624.2 L2083.0,623.3 L2084.0,623.0 L2085.0,623.5 L2086.0,626.5 L2087.0,627.4 L2088.0,629.2 L2089.0,631.3 L2090.0,631.4 L2091.0,631.0 L2092.0,631.2 L2093.0,633.7 L2094.0,633.4 L2095.0,633.5 L2096.0,632.0 L2097.0,630.4 L2098.0,629.3 L2099.0,626.8 L2100.0,628.8 L2101.0,628.1 L2102.0,630.1 L2103.0,631.5 L2104.0,631.6 L2105.0,633.9 L2106.0,633.7 L2107.0,634.6 L2108.0,637.2 L2109.0,636.7 L2110.0,637.6 L2111.0,640.0 L2112.0,640.6 L2113.0,641.6 L2114.0,639.7 L2115.0,640.8 L2116.0,640.9 L2117.0,642.1 L2118.0,641.6 L2119.0,641.2 L2120.0,641.1 L2121.0,641.3 L2122.0,642.8 L2123.0,641.7 L2124.0,641.0 L2125.0,642.1 L2126.0,641.4 L2127.0,643.2 L2128.0,643.0 L2129.0,642.4 L2130.0,642.0 L2131.0,640.5 L2132.0,641.3 L2133.0,641.6 L2134.0,639.5 L2135.0,637.9 L2136.0,637.6 L2137.0,635.3 L2138.0,633.1 L2139.0,631.3 L2140.0,629.3 L2141.0,625.4 L2142.0,626.3 L2143.0,626.1 L2144.0,625.2 L2145.0,625.9 L2146.0,626.2 L2147.0,628.6 L2148.0,629.7 L2149.0,633.3 L2150.0,635.1 L2151.0,635.3 L2152.0,635.2 L2153.0,634.7 L2154.0,638.6 L2155.0,638.2 L2156.0,638.8 L2157.0,640.7 L2158.0,641.3 L2159.0,641.0 L2160.0,641.9 L2161.0,641.9 L2162.0,641.7 L2163.0,640.9 L2164.0,643.1 L2165.0,641.5 L2166.0,641.6 L2167.0,641.1 L2168.0,641.2 L2169.0,640.1 L2170.0,639.4 L2171.0,639.9 L2172.0,641.4 L2173.0,642.6 L2174.0,640.2 L2175.0,642.7 L2176.0,640.4 L2177.0,640.5 L2178.0,640.7 L2179.0,642.1 L2180.0,642.0 L2181.0,642.2 L2182.0,641.1 L2183.0,643.1 L2184.0,642.5 L2185.0,642.1 L2186.0,643.9 L2187.0,642.9 L2188.0,643.7 L2189.0,642.4 L2190.0,642.6 L2191.0,642.6 L2192.0,643.9 L2193.0,643.9 L2194.0,642.3 L2195.0,643.3 L2196.0,642.1 L2197.0,642.8 L2198.0,643.3 L2199.0,641.9 L2201.5,642.6 L2204.0,642.6" fill="none" stroke="#0000ff" stroke-width="11.5" stroke-linejoin="round" stroke-linecap="butt"/>
<rect x="1753.3" y="75.2" width="418.5" height="147.5" fill="#fff" stroke="#000" stroke-width="2.6"/>
<rect x="1786" y="143.5" width="97.7" height="11" fill="#0000ff"/>
<text x="1945.2" y="173.4" font-size="81.5">A+C</text>
<text x="1857.4" y="712.9" font-size="75.0" text-anchor="end">1400</text>
<text transform="translate(1895.4,715.2) scale(0.863,1)" font-size="72.2" text-anchor="middle" style="font-family:'Liberation Sans','IPAGothic','WenQuanYi Zen Hei',sans-serif">℃</text>
<text x="2191.0" y="712.9" font-size="75.0" font-weight="bold" text-anchor="end">heated</text>
<text x="1857.4" y="1243.3" font-size="75.0" text-anchor="end">200</text>
<text transform="translate(1895.4,1245.6) scale(0.863,1)" font-size="72.2" text-anchor="middle" style="font-family:'Liberation Sans','IPAGothic','WenQuanYi Zen Hei',sans-serif">℃</text>
<text x="2191.0" y="1243.3" font-size="75.0" font-weight="bold" text-anchor="end">heated</text>
<text x="2189" y="1313.8" font-size="60.5" text-anchor="end" fill="#ff8000">CA, ICDD 01-070-0134</text>
<text x="2190" y="1434.2" font-size="60.5" text-anchor="end" fill="#00bfff">CA<tspan font-size="41.5" dy="16.5">2</tspan><tspan dy="-16.5">, ICDD 00-007-0082</tspan></text>
<text x="2197" y="1563" font-size="60.5" text-anchor="end" fill="#808000">CA<tspan font-size="41.5" dy="16.5">6</tspan><tspan dy="-16.5">, ICDD 84-1613</tspan></text>
<text x="2190" y="1676" font-size="60.5" text-anchor="end" fill="#00e000">C<tspan font-size="41.5" dy="16.5">4</tspan><tspan dy="-16.5">AH</tspan><tspan font-size="41.5" dy="16.5">19</tspan><tspan dy="-16.5">, ICDD 14-0628</tspan></text>
<text x="2192.5" y="1791.2" font-size="60.5" text-anchor="end" fill="#000">Alumina, ICDD 00-047-1770</text>
<text transform="translate(253.6,1967.8) scale(0.972,1)" font-size="82.5" text-anchor="middle">15</text>
<text transform="translate(532.2,1967.8) scale(0.972,1)" font-size="82.5" text-anchor="middle">20</text>
<text transform="translate(810.7,1967.8) scale(0.972,1)" font-size="82.5" text-anchor="middle">25</text>
<text transform="translate(1089.3,1967.8) scale(0.972,1)" font-size="82.5" text-anchor="middle">30</text>
<text transform="translate(1367.9,1967.8) scale(0.972,1)" font-size="82.5" text-anchor="middle">35</text>
<text transform="translate(1646.5,1967.8) scale(0.972,1)" font-size="82.5" text-anchor="middle">40</text>
<text transform="translate(1925.0,1967.8) scale(0.972,1)" font-size="82.5" text-anchor="middle">45</text>
<text transform="translate(2203.6,1967.8) scale(0.972,1)" font-size="82.5" text-anchor="middle">50</text>
<text transform="translate(1227.9,2103.3) scale(1.0175,1)" font-size="120" text-anchor="middle">2-Theta (deg.)</text>
<rect x="0" y="2129.3" width="2293" height="40" fill="#fff"/>
<text transform="translate(144.3,940.2) rotate(-90) scale(1.0148,1)" font-size="120" text-anchor="middle">Intensity (a.u.)</text>
</svg>
</body></html>
